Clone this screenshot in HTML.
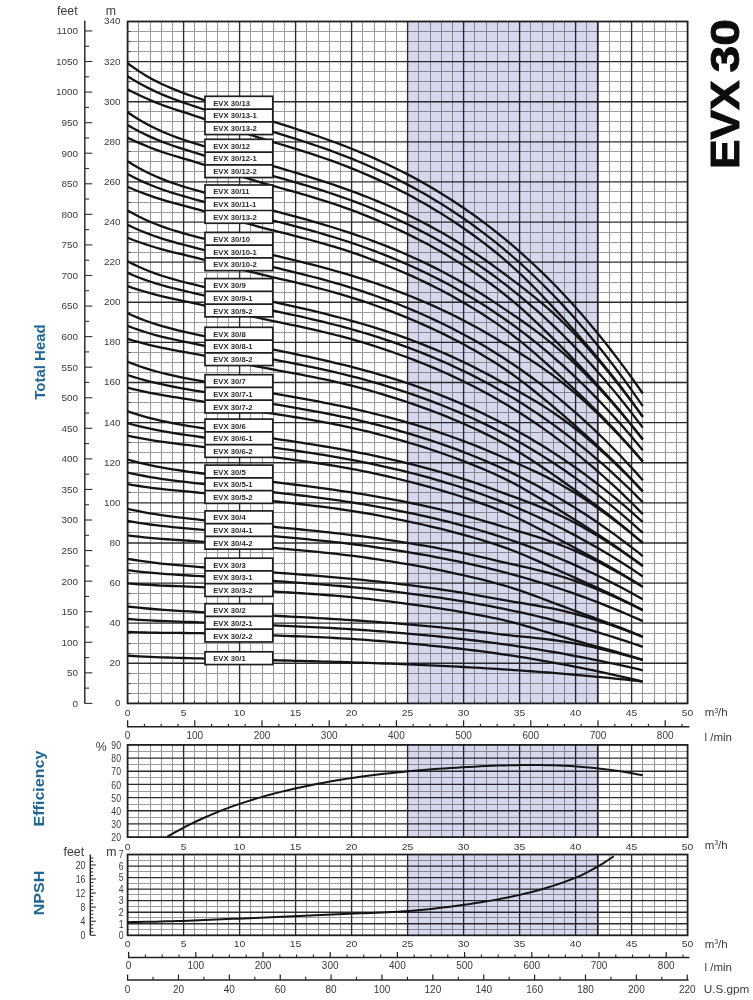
<!DOCTYPE html>
<html><head><meta charset="utf-8"><title>EVX 30</title>
<style>
html,body{margin:0;padding:0;background:#fff;}
body{width:753px;height:1000px;overflow:hidden;}
svg{display:block;}
text{font-family:"Liberation Sans",sans-serif;}
.t{font-size:10px;fill:#3a3a3a;}
.t9{font-size:9px;fill:#3a3a3a;}
.t95{font-size:9.6px;fill:#3a3a3a;}
.u{font-size:12.3px;fill:#3a3a3a;}
.u2{font-size:11.5px;fill:#3a3a3a;}
.sup{font-size:6.5px;}
.bx{font-size:7.7px;font-weight:bold;fill:#2a2a2a;}
.ttl{font-size:14.8px;font-weight:bold;fill:#1f6696;}
.big{font-size:41px;font-weight:bold;fill:#0c0c0c;stroke:#0c0c0c;stroke-width:0.9px;}
</style></head>
<body>
<svg width="753" height="1000" viewBox="0 0 753 1000">
<rect width="753" height="1000" fill="#fff"/>
<line x1="138.5" y1="21.5" x2="138.5" y2="703.4" stroke="#9c9c9c" stroke-width="1"/>
<line x1="150.5" y1="21.5" x2="150.5" y2="703.4" stroke="#9c9c9c" stroke-width="1"/>
<line x1="161.5" y1="21.5" x2="161.5" y2="703.4" stroke="#9c9c9c" stroke-width="1"/>
<line x1="172.5" y1="21.5" x2="172.5" y2="703.4" stroke="#9c9c9c" stroke-width="1"/>
<line x1="194.5" y1="21.5" x2="194.5" y2="703.4" stroke="#9c9c9c" stroke-width="1"/>
<line x1="206.5" y1="21.5" x2="206.5" y2="703.4" stroke="#9c9c9c" stroke-width="1"/>
<line x1="217.5" y1="21.5" x2="217.5" y2="703.4" stroke="#9c9c9c" stroke-width="1"/>
<line x1="228.5" y1="21.5" x2="228.5" y2="703.4" stroke="#9c9c9c" stroke-width="1"/>
<line x1="250.5" y1="21.5" x2="250.5" y2="703.4" stroke="#9c9c9c" stroke-width="1"/>
<line x1="262.5" y1="21.5" x2="262.5" y2="703.4" stroke="#9c9c9c" stroke-width="1"/>
<line x1="273.5" y1="21.5" x2="273.5" y2="703.4" stroke="#9c9c9c" stroke-width="1"/>
<line x1="284.5" y1="21.5" x2="284.5" y2="703.4" stroke="#9c9c9c" stroke-width="1"/>
<line x1="306.5" y1="21.5" x2="306.5" y2="703.4" stroke="#9c9c9c" stroke-width="1"/>
<line x1="318.5" y1="21.5" x2="318.5" y2="703.4" stroke="#9c9c9c" stroke-width="1"/>
<line x1="329.5" y1="21.5" x2="329.5" y2="703.4" stroke="#9c9c9c" stroke-width="1"/>
<line x1="340.5" y1="21.5" x2="340.5" y2="703.4" stroke="#9c9c9c" stroke-width="1"/>
<line x1="362.5" y1="21.5" x2="362.5" y2="703.4" stroke="#9c9c9c" stroke-width="1"/>
<line x1="374.5" y1="21.5" x2="374.5" y2="703.4" stroke="#9c9c9c" stroke-width="1"/>
<line x1="385.5" y1="21.5" x2="385.5" y2="703.4" stroke="#9c9c9c" stroke-width="1"/>
<line x1="396.5" y1="21.5" x2="396.5" y2="703.4" stroke="#9c9c9c" stroke-width="1"/>
<line x1="418.5" y1="21.5" x2="418.5" y2="703.4" stroke="#9c9c9c" stroke-width="1"/>
<line x1="430.5" y1="21.5" x2="430.5" y2="703.4" stroke="#9c9c9c" stroke-width="1"/>
<line x1="441.5" y1="21.5" x2="441.5" y2="703.4" stroke="#9c9c9c" stroke-width="1"/>
<line x1="452.5" y1="21.5" x2="452.5" y2="703.4" stroke="#9c9c9c" stroke-width="1"/>
<line x1="474.5" y1="21.5" x2="474.5" y2="703.4" stroke="#9c9c9c" stroke-width="1"/>
<line x1="486.5" y1="21.5" x2="486.5" y2="703.4" stroke="#9c9c9c" stroke-width="1"/>
<line x1="497.5" y1="21.5" x2="497.5" y2="703.4" stroke="#9c9c9c" stroke-width="1"/>
<line x1="508.5" y1="21.5" x2="508.5" y2="703.4" stroke="#9c9c9c" stroke-width="1"/>
<line x1="530.5" y1="21.5" x2="530.5" y2="703.4" stroke="#9c9c9c" stroke-width="1"/>
<line x1="542.5" y1="21.5" x2="542.5" y2="703.4" stroke="#9c9c9c" stroke-width="1"/>
<line x1="553.5" y1="21.5" x2="553.5" y2="703.4" stroke="#9c9c9c" stroke-width="1"/>
<line x1="564.5" y1="21.5" x2="564.5" y2="703.4" stroke="#9c9c9c" stroke-width="1"/>
<line x1="586.5" y1="21.5" x2="586.5" y2="703.4" stroke="#9c9c9c" stroke-width="1"/>
<line x1="609.5" y1="21.5" x2="609.5" y2="703.4" stroke="#9c9c9c" stroke-width="1"/>
<line x1="620.5" y1="21.5" x2="620.5" y2="703.4" stroke="#9c9c9c" stroke-width="1"/>
<line x1="642.5" y1="21.5" x2="642.5" y2="703.4" stroke="#9c9c9c" stroke-width="1"/>
<line x1="654.5" y1="21.5" x2="654.5" y2="703.4" stroke="#9c9c9c" stroke-width="1"/>
<line x1="665.5" y1="21.5" x2="665.5" y2="703.4" stroke="#9c9c9c" stroke-width="1"/>
<line x1="676.5" y1="21.5" x2="676.5" y2="703.4" stroke="#9c9c9c" stroke-width="1"/>
<line x1="127.6" y1="693.5" x2="687.6" y2="693.5" stroke="#9c9c9c" stroke-width="1"/>
<line x1="127.6" y1="683.5" x2="687.6" y2="683.5" stroke="#9c9c9c" stroke-width="1"/>
<line x1="127.6" y1="673.5" x2="687.6" y2="673.5" stroke="#9c9c9c" stroke-width="1"/>
<line x1="127.6" y1="653.5" x2="687.6" y2="653.5" stroke="#9c9c9c" stroke-width="1"/>
<line x1="127.6" y1="643.5" x2="687.6" y2="643.5" stroke="#9c9c9c" stroke-width="1"/>
<line x1="127.6" y1="633.5" x2="687.6" y2="633.5" stroke="#9c9c9c" stroke-width="1"/>
<line x1="127.6" y1="613.5" x2="687.6" y2="613.5" stroke="#9c9c9c" stroke-width="1"/>
<line x1="127.6" y1="603.5" x2="687.6" y2="603.5" stroke="#9c9c9c" stroke-width="1"/>
<line x1="127.6" y1="593.5" x2="687.6" y2="593.5" stroke="#9c9c9c" stroke-width="1"/>
<line x1="127.6" y1="573.5" x2="687.6" y2="573.5" stroke="#9c9c9c" stroke-width="1"/>
<line x1="127.6" y1="563.5" x2="687.6" y2="563.5" stroke="#9c9c9c" stroke-width="1"/>
<line x1="127.6" y1="552.5" x2="687.6" y2="552.5" stroke="#9c9c9c" stroke-width="1"/>
<line x1="127.6" y1="532.5" x2="687.6" y2="532.5" stroke="#9c9c9c" stroke-width="1"/>
<line x1="127.6" y1="522.5" x2="687.6" y2="522.5" stroke="#9c9c9c" stroke-width="1"/>
<line x1="127.6" y1="512.5" x2="687.6" y2="512.5" stroke="#9c9c9c" stroke-width="1"/>
<line x1="127.6" y1="492.5" x2="687.6" y2="492.5" stroke="#9c9c9c" stroke-width="1"/>
<line x1="127.6" y1="482.5" x2="687.6" y2="482.5" stroke="#9c9c9c" stroke-width="1"/>
<line x1="127.6" y1="472.5" x2="687.6" y2="472.5" stroke="#9c9c9c" stroke-width="1"/>
<line x1="127.6" y1="452.5" x2="687.6" y2="452.5" stroke="#9c9c9c" stroke-width="1"/>
<line x1="127.6" y1="442.5" x2="687.6" y2="442.5" stroke="#9c9c9c" stroke-width="1"/>
<line x1="127.6" y1="432.5" x2="687.6" y2="432.5" stroke="#9c9c9c" stroke-width="1"/>
<line x1="127.6" y1="412.5" x2="687.6" y2="412.5" stroke="#9c9c9c" stroke-width="1"/>
<line x1="127.6" y1="402.5" x2="687.6" y2="402.5" stroke="#9c9c9c" stroke-width="1"/>
<line x1="127.6" y1="392.5" x2="687.6" y2="392.5" stroke="#9c9c9c" stroke-width="1"/>
<line x1="127.6" y1="372.5" x2="687.6" y2="372.5" stroke="#9c9c9c" stroke-width="1"/>
<line x1="127.6" y1="362.5" x2="687.6" y2="362.5" stroke="#9c9c9c" stroke-width="1"/>
<line x1="127.6" y1="352.5" x2="687.6" y2="352.5" stroke="#9c9c9c" stroke-width="1"/>
<line x1="127.6" y1="332.5" x2="687.6" y2="332.5" stroke="#9c9c9c" stroke-width="1"/>
<line x1="127.6" y1="322.5" x2="687.6" y2="322.5" stroke="#9c9c9c" stroke-width="1"/>
<line x1="127.6" y1="312.5" x2="687.6" y2="312.5" stroke="#9c9c9c" stroke-width="1"/>
<line x1="127.6" y1="292.5" x2="687.6" y2="292.5" stroke="#9c9c9c" stroke-width="1"/>
<line x1="127.6" y1="282.5" x2="687.6" y2="282.5" stroke="#9c9c9c" stroke-width="1"/>
<line x1="127.6" y1="272.5" x2="687.6" y2="272.5" stroke="#9c9c9c" stroke-width="1"/>
<line x1="127.6" y1="252.5" x2="687.6" y2="252.5" stroke="#9c9c9c" stroke-width="1"/>
<line x1="127.6" y1="242.5" x2="687.6" y2="242.5" stroke="#9c9c9c" stroke-width="1"/>
<line x1="127.6" y1="232.5" x2="687.6" y2="232.5" stroke="#9c9c9c" stroke-width="1"/>
<line x1="127.6" y1="212.5" x2="687.6" y2="212.5" stroke="#9c9c9c" stroke-width="1"/>
<line x1="127.6" y1="202.5" x2="687.6" y2="202.5" stroke="#9c9c9c" stroke-width="1"/>
<line x1="127.6" y1="191.5" x2="687.6" y2="191.5" stroke="#9c9c9c" stroke-width="1"/>
<line x1="127.6" y1="171.5" x2="687.6" y2="171.5" stroke="#9c9c9c" stroke-width="1"/>
<line x1="127.6" y1="161.5" x2="687.6" y2="161.5" stroke="#9c9c9c" stroke-width="1"/>
<line x1="127.6" y1="151.5" x2="687.6" y2="151.5" stroke="#9c9c9c" stroke-width="1"/>
<line x1="127.6" y1="131.5" x2="687.6" y2="131.5" stroke="#9c9c9c" stroke-width="1"/>
<line x1="127.6" y1="121.5" x2="687.6" y2="121.5" stroke="#9c9c9c" stroke-width="1"/>
<line x1="127.6" y1="111.5" x2="687.6" y2="111.5" stroke="#9c9c9c" stroke-width="1"/>
<line x1="127.6" y1="91.5" x2="687.6" y2="91.5" stroke="#9c9c9c" stroke-width="1"/>
<line x1="127.6" y1="81.5" x2="687.6" y2="81.5" stroke="#9c9c9c" stroke-width="1"/>
<line x1="127.6" y1="71.5" x2="687.6" y2="71.5" stroke="#9c9c9c" stroke-width="1"/>
<line x1="127.6" y1="51.5" x2="687.6" y2="51.5" stroke="#9c9c9c" stroke-width="1"/>
<line x1="127.6" y1="41.5" x2="687.6" y2="41.5" stroke="#9c9c9c" stroke-width="1"/>
<line x1="127.6" y1="31.5" x2="687.6" y2="31.5" stroke="#9c9c9c" stroke-width="1"/>
<line x1="127.6" y1="663.29" x2="687.6" y2="663.29" stroke="#2c2c2c" stroke-width="1.35"/>
<line x1="127.6" y1="623.18" x2="687.6" y2="623.18" stroke="#2c2c2c" stroke-width="1.35"/>
<line x1="127.6" y1="583.06" x2="687.6" y2="583.06" stroke="#2c2c2c" stroke-width="1.35"/>
<line x1="127.6" y1="542.95" x2="687.6" y2="542.95" stroke="#2c2c2c" stroke-width="1.35"/>
<line x1="127.6" y1="502.84" x2="687.6" y2="502.84" stroke="#2c2c2c" stroke-width="1.35"/>
<line x1="127.6" y1="462.73" x2="687.6" y2="462.73" stroke="#2c2c2c" stroke-width="1.35"/>
<line x1="127.6" y1="422.62" x2="687.6" y2="422.62" stroke="#2c2c2c" stroke-width="1.35"/>
<line x1="127.6" y1="382.5" x2="687.6" y2="382.5" stroke="#2c2c2c" stroke-width="1.35"/>
<line x1="127.6" y1="342.39" x2="687.6" y2="342.39" stroke="#2c2c2c" stroke-width="1.35"/>
<line x1="127.6" y1="302.28" x2="687.6" y2="302.28" stroke="#2c2c2c" stroke-width="1.35"/>
<line x1="127.6" y1="262.17" x2="687.6" y2="262.17" stroke="#2c2c2c" stroke-width="1.35"/>
<line x1="127.6" y1="222.06" x2="687.6" y2="222.06" stroke="#2c2c2c" stroke-width="1.35"/>
<line x1="127.6" y1="181.94" x2="687.6" y2="181.94" stroke="#2c2c2c" stroke-width="1.35"/>
<line x1="127.6" y1="141.83" x2="687.6" y2="141.83" stroke="#2c2c2c" stroke-width="1.35"/>
<line x1="127.6" y1="101.72" x2="687.6" y2="101.72" stroke="#2c2c2c" stroke-width="1.35"/>
<line x1="127.6" y1="61.61" x2="687.6" y2="61.61" stroke="#2c2c2c" stroke-width="1.35"/>
<line x1="183.6" y1="21.5" x2="183.6" y2="703.4" stroke="#2c2c2c" stroke-width="1.35"/>
<line x1="239.6" y1="21.5" x2="239.6" y2="703.4" stroke="#2c2c2c" stroke-width="1.35"/>
<line x1="295.6" y1="21.5" x2="295.6" y2="703.4" stroke="#2c2c2c" stroke-width="1.35"/>
<line x1="351.6" y1="21.5" x2="351.6" y2="703.4" stroke="#2c2c2c" stroke-width="1.35"/>
<line x1="407.6" y1="21.5" x2="407.6" y2="703.4" stroke="#2c2c2c" stroke-width="1.35"/>
<line x1="463.6" y1="21.5" x2="463.6" y2="703.4" stroke="#2c2c2c" stroke-width="1.35"/>
<line x1="519.6" y1="21.5" x2="519.6" y2="703.4" stroke="#2c2c2c" stroke-width="1.35"/>
<line x1="575.6" y1="21.5" x2="575.6" y2="703.4" stroke="#2c2c2c" stroke-width="1.35"/>
<line x1="631.6" y1="21.5" x2="631.6" y2="703.4" stroke="#2c2c2c" stroke-width="1.35"/>
<line x1="597.8" y1="21.5" x2="597.8" y2="703.4" stroke="#2c2c2c" stroke-width="1.8"/>
<rect x="407.6" y="21.5" width="190.4" height="681.9" fill="#d6d9ed" style="mix-blend-mode:multiply"/>
<rect x="127.6" y="21.5" width="560" height="681.9" fill="none" stroke="#1e1e1e" stroke-width="1.8"/>
<line x1="138.5" y1="700.4" x2="138.5" y2="703.4" stroke="#444" stroke-width="1.1"/>
<line x1="150.5" y1="700.4" x2="150.5" y2="703.4" stroke="#444" stroke-width="1.1"/>
<line x1="161.5" y1="700.4" x2="161.5" y2="703.4" stroke="#444" stroke-width="1.1"/>
<line x1="172.5" y1="700.4" x2="172.5" y2="703.4" stroke="#444" stroke-width="1.1"/>
<line x1="194.5" y1="700.4" x2="194.5" y2="703.4" stroke="#444" stroke-width="1.1"/>
<line x1="206.5" y1="700.4" x2="206.5" y2="703.4" stroke="#444" stroke-width="1.1"/>
<line x1="217.5" y1="700.4" x2="217.5" y2="703.4" stroke="#444" stroke-width="1.1"/>
<line x1="228.5" y1="700.4" x2="228.5" y2="703.4" stroke="#444" stroke-width="1.1"/>
<line x1="250.5" y1="700.4" x2="250.5" y2="703.4" stroke="#444" stroke-width="1.1"/>
<line x1="262.5" y1="700.4" x2="262.5" y2="703.4" stroke="#444" stroke-width="1.1"/>
<line x1="273.5" y1="700.4" x2="273.5" y2="703.4" stroke="#444" stroke-width="1.1"/>
<line x1="284.5" y1="700.4" x2="284.5" y2="703.4" stroke="#444" stroke-width="1.1"/>
<line x1="306.5" y1="700.4" x2="306.5" y2="703.4" stroke="#444" stroke-width="1.1"/>
<line x1="318.5" y1="700.4" x2="318.5" y2="703.4" stroke="#444" stroke-width="1.1"/>
<line x1="329.5" y1="700.4" x2="329.5" y2="703.4" stroke="#444" stroke-width="1.1"/>
<line x1="340.5" y1="700.4" x2="340.5" y2="703.4" stroke="#444" stroke-width="1.1"/>
<line x1="362.5" y1="700.4" x2="362.5" y2="703.4" stroke="#444" stroke-width="1.1"/>
<line x1="374.5" y1="700.4" x2="374.5" y2="703.4" stroke="#444" stroke-width="1.1"/>
<line x1="385.5" y1="700.4" x2="385.5" y2="703.4" stroke="#444" stroke-width="1.1"/>
<line x1="396.5" y1="700.4" x2="396.5" y2="703.4" stroke="#444" stroke-width="1.1"/>
<line x1="418.5" y1="700.4" x2="418.5" y2="703.4" stroke="#444" stroke-width="1.1"/>
<line x1="430.5" y1="700.4" x2="430.5" y2="703.4" stroke="#444" stroke-width="1.1"/>
<line x1="441.5" y1="700.4" x2="441.5" y2="703.4" stroke="#444" stroke-width="1.1"/>
<line x1="452.5" y1="700.4" x2="452.5" y2="703.4" stroke="#444" stroke-width="1.1"/>
<line x1="474.5" y1="700.4" x2="474.5" y2="703.4" stroke="#444" stroke-width="1.1"/>
<line x1="486.5" y1="700.4" x2="486.5" y2="703.4" stroke="#444" stroke-width="1.1"/>
<line x1="497.5" y1="700.4" x2="497.5" y2="703.4" stroke="#444" stroke-width="1.1"/>
<line x1="508.5" y1="700.4" x2="508.5" y2="703.4" stroke="#444" stroke-width="1.1"/>
<line x1="530.5" y1="700.4" x2="530.5" y2="703.4" stroke="#444" stroke-width="1.1"/>
<line x1="542.5" y1="700.4" x2="542.5" y2="703.4" stroke="#444" stroke-width="1.1"/>
<line x1="553.5" y1="700.4" x2="553.5" y2="703.4" stroke="#444" stroke-width="1.1"/>
<line x1="564.5" y1="700.4" x2="564.5" y2="703.4" stroke="#444" stroke-width="1.1"/>
<line x1="586.5" y1="700.4" x2="586.5" y2="703.4" stroke="#444" stroke-width="1.1"/>
<line x1="598.5" y1="700.4" x2="598.5" y2="703.4" stroke="#444" stroke-width="1.1"/>
<line x1="609.5" y1="700.4" x2="609.5" y2="703.4" stroke="#444" stroke-width="1.1"/>
<line x1="620.5" y1="700.4" x2="620.5" y2="703.4" stroke="#444" stroke-width="1.1"/>
<line x1="642.5" y1="700.4" x2="642.5" y2="703.4" stroke="#444" stroke-width="1.1"/>
<line x1="654.5" y1="700.4" x2="654.5" y2="703.4" stroke="#444" stroke-width="1.1"/>
<line x1="665.5" y1="700.4" x2="665.5" y2="703.4" stroke="#444" stroke-width="1.1"/>
<line x1="676.5" y1="700.4" x2="676.5" y2="703.4" stroke="#444" stroke-width="1.1"/>
<line x1="127.6" y1="693.5" x2="130.6" y2="693.5" stroke="#444" stroke-width="1.1"/>
<line x1="127.6" y1="683.5" x2="130.6" y2="683.5" stroke="#444" stroke-width="1.1"/>
<line x1="127.6" y1="673.5" x2="130.6" y2="673.5" stroke="#444" stroke-width="1.1"/>
<line x1="127.6" y1="653.5" x2="130.6" y2="653.5" stroke="#444" stroke-width="1.1"/>
<line x1="127.6" y1="643.5" x2="130.6" y2="643.5" stroke="#444" stroke-width="1.1"/>
<line x1="127.6" y1="633.5" x2="130.6" y2="633.5" stroke="#444" stroke-width="1.1"/>
<line x1="127.6" y1="613.5" x2="130.6" y2="613.5" stroke="#444" stroke-width="1.1"/>
<line x1="127.6" y1="603.5" x2="130.6" y2="603.5" stroke="#444" stroke-width="1.1"/>
<line x1="127.6" y1="593.5" x2="130.6" y2="593.5" stroke="#444" stroke-width="1.1"/>
<line x1="127.6" y1="573.5" x2="130.6" y2="573.5" stroke="#444" stroke-width="1.1"/>
<line x1="127.6" y1="563.5" x2="130.6" y2="563.5" stroke="#444" stroke-width="1.1"/>
<line x1="127.6" y1="552.5" x2="130.6" y2="552.5" stroke="#444" stroke-width="1.1"/>
<line x1="127.6" y1="532.5" x2="130.6" y2="532.5" stroke="#444" stroke-width="1.1"/>
<line x1="127.6" y1="522.5" x2="130.6" y2="522.5" stroke="#444" stroke-width="1.1"/>
<line x1="127.6" y1="512.5" x2="130.6" y2="512.5" stroke="#444" stroke-width="1.1"/>
<line x1="127.6" y1="492.5" x2="130.6" y2="492.5" stroke="#444" stroke-width="1.1"/>
<line x1="127.6" y1="482.5" x2="130.6" y2="482.5" stroke="#444" stroke-width="1.1"/>
<line x1="127.6" y1="472.5" x2="130.6" y2="472.5" stroke="#444" stroke-width="1.1"/>
<line x1="127.6" y1="452.5" x2="130.6" y2="452.5" stroke="#444" stroke-width="1.1"/>
<line x1="127.6" y1="442.5" x2="130.6" y2="442.5" stroke="#444" stroke-width="1.1"/>
<line x1="127.6" y1="432.5" x2="130.6" y2="432.5" stroke="#444" stroke-width="1.1"/>
<line x1="127.6" y1="412.5" x2="130.6" y2="412.5" stroke="#444" stroke-width="1.1"/>
<line x1="127.6" y1="402.5" x2="130.6" y2="402.5" stroke="#444" stroke-width="1.1"/>
<line x1="127.6" y1="392.5" x2="130.6" y2="392.5" stroke="#444" stroke-width="1.1"/>
<line x1="127.6" y1="372.5" x2="130.6" y2="372.5" stroke="#444" stroke-width="1.1"/>
<line x1="127.6" y1="362.5" x2="130.6" y2="362.5" stroke="#444" stroke-width="1.1"/>
<line x1="127.6" y1="352.5" x2="130.6" y2="352.5" stroke="#444" stroke-width="1.1"/>
<line x1="127.6" y1="332.5" x2="130.6" y2="332.5" stroke="#444" stroke-width="1.1"/>
<line x1="127.6" y1="322.5" x2="130.6" y2="322.5" stroke="#444" stroke-width="1.1"/>
<line x1="127.6" y1="312.5" x2="130.6" y2="312.5" stroke="#444" stroke-width="1.1"/>
<line x1="127.6" y1="292.5" x2="130.6" y2="292.5" stroke="#444" stroke-width="1.1"/>
<line x1="127.6" y1="282.5" x2="130.6" y2="282.5" stroke="#444" stroke-width="1.1"/>
<line x1="127.6" y1="272.5" x2="130.6" y2="272.5" stroke="#444" stroke-width="1.1"/>
<line x1="127.6" y1="252.5" x2="130.6" y2="252.5" stroke="#444" stroke-width="1.1"/>
<line x1="127.6" y1="242.5" x2="130.6" y2="242.5" stroke="#444" stroke-width="1.1"/>
<line x1="127.6" y1="232.5" x2="130.6" y2="232.5" stroke="#444" stroke-width="1.1"/>
<line x1="127.6" y1="212.5" x2="130.6" y2="212.5" stroke="#444" stroke-width="1.1"/>
<line x1="127.6" y1="202.5" x2="130.6" y2="202.5" stroke="#444" stroke-width="1.1"/>
<line x1="127.6" y1="191.5" x2="130.6" y2="191.5" stroke="#444" stroke-width="1.1"/>
<line x1="127.6" y1="171.5" x2="130.6" y2="171.5" stroke="#444" stroke-width="1.1"/>
<line x1="127.6" y1="161.5" x2="130.6" y2="161.5" stroke="#444" stroke-width="1.1"/>
<line x1="127.6" y1="151.5" x2="130.6" y2="151.5" stroke="#444" stroke-width="1.1"/>
<line x1="127.6" y1="131.5" x2="130.6" y2="131.5" stroke="#444" stroke-width="1.1"/>
<line x1="127.6" y1="121.5" x2="130.6" y2="121.5" stroke="#444" stroke-width="1.1"/>
<line x1="127.6" y1="111.5" x2="130.6" y2="111.5" stroke="#444" stroke-width="1.1"/>
<line x1="127.6" y1="91.5" x2="130.6" y2="91.5" stroke="#444" stroke-width="1.1"/>
<line x1="127.6" y1="81.5" x2="130.6" y2="81.5" stroke="#444" stroke-width="1.1"/>
<line x1="127.6" y1="71.5" x2="130.6" y2="71.5" stroke="#444" stroke-width="1.1"/>
<line x1="127.6" y1="51.5" x2="130.6" y2="51.5" stroke="#444" stroke-width="1.1"/>
<line x1="127.6" y1="41.5" x2="130.6" y2="41.5" stroke="#444" stroke-width="1.1"/>
<line x1="127.6" y1="31.5" x2="130.6" y2="31.5" stroke="#444" stroke-width="1.1"/>
<polyline points="127.6,63.2 133.2,67.32 138.8,71.13 144.4,74.64 150,77.89 155.6,80.9 161.2,83.68 166.8,86.27 172.4,88.68 178,90.93 183.6,93.06 189.2,95.08 194.8,97.02 200.4,98.89 206,100.73 211.6,102.54 217.2,104.33 222.8,106.1 228.4,107.85 234,109.58 239.6,111.31 245.2,113.03 250.8,114.75 256.4,116.46 262,118.18 267.6,119.91 273.2,121.64 278.8,123.39 284.4,125.15 290,126.93 295.6,128.74 301.2,130.57 306.8,132.43 312.4,134.32 318,136.24 323.6,138.21 329.2,140.22 334.8,142.27 340.4,144.37 346,146.53 351.6,148.73 357.2,151 362.8,153.33 368.4,155.72 374,158.17 379.6,160.69 385.2,163.28 390.8,165.94 396.4,168.68 402,171.48 407.6,174.37 413.2,177.34 418.8,180.38 424.4,183.51 430,186.73 435.6,190.04 441.2,193.43 446.8,196.92 452.4,200.5 458,204.18 463.6,207.96 469.2,211.83 474.8,215.81 480.4,219.9 486,224.09 491.6,228.39 497.2,232.8 502.8,237.33 508.4,241.97 514,246.73 519.6,251.61 525.2,256.61 530.8,261.73 536.4,266.98 542,272.36 547.6,277.87 553.2,283.52 558.8,289.29 564.4,295.21 570,301.26 575.6,307.45 581.2,313.79 586.8,320.27 592.4,326.9 598,333.68 603.6,340.6 609.2,347.69 614.8,354.93 620.4,362.32 626,369.88 631.6,377.6 637.2,385.48 642.8,393.53" fill="none" stroke="#141414" stroke-width="2.3" stroke-linejoin="round"/>
<polyline points="127.6,76.2 133.2,79.73 138.8,82.98 144.4,86.01 150,88.89 155.6,91.58 161.2,94.07 166.8,96.38 172.4,98.54 178,100.59 183.6,102.56 189.2,104.49 194.8,106.39 200.4,108.27 206,110.14 211.6,112.01 217.2,113.88 222.8,115.76 228.4,117.62 234,119.46 239.6,121.26 245.2,123.05 250.8,124.85 256.4,126.64 262,128.42 267.6,130.18 273.2,131.9 278.8,133.61 284.4,135.34 290,137.09 295.6,138.86 301.2,140.65 306.8,142.48 312.4,144.35 318,146.25 323.6,148.19 329.2,150.18 334.8,152.22 340.4,154.32 346,156.47 351.6,158.68 357.2,160.96 362.8,163.31 368.4,165.72 374,168.2 379.6,170.76 385.2,173.38 390.8,176.08 396.4,178.85 402,181.69 407.6,184.61 413.2,187.6 418.8,190.68 424.4,193.84 430,197.09 435.6,200.42 441.2,203.84 446.8,207.36 452.4,210.98 458,214.69 463.6,218.5 469.2,222.42 474.8,226.45 480.4,230.58 486,234.82 491.6,239.18 497.2,243.64 502.8,248.23 508.4,252.93 514,257.75 519.6,262.69 525.2,267.75 530.8,272.95 536.4,278.27 542,283.73 547.6,289.32 553.2,295.04 558.8,300.89 564.4,306.89 570,313.01 575.6,319.28 581.2,325.69 586.8,332.24 592.4,338.94 598,345.78 603.6,352.78 609.2,359.93 614.8,367.24 620.4,374.7 626,382.32 631.6,390.11 637.2,398.06 642.8,406.17" fill="none" stroke="#141414" stroke-width="2.3" stroke-linejoin="round"/>
<polyline points="127.6,89.3 133.2,92.23 138.8,94.93 144.4,97.48 150,99.98 155.6,102.36 161.2,104.55 166.8,106.58 172.4,108.5 178,110.33 183.6,112.14 189.2,113.96 194.8,115.82 200.4,117.71 206,119.6 211.6,121.52 217.2,123.47 222.8,125.45 228.4,127.41 234,129.34 239.6,131.22 245.2,133.07 250.8,134.93 256.4,136.79 262,138.62 267.6,140.39 273.2,142.09 278.8,143.75 284.4,145.43 290,147.13 295.6,148.85 301.2,150.6 306.8,152.38 312.4,154.2 318,156.06 323.6,157.97 329.2,159.93 334.8,161.94 340.4,164.01 346,166.14 351.6,168.34 357.2,170.61 362.8,172.95 368.4,175.37 374,177.86 379.6,180.42 385.2,183.06 390.8,185.77 396.4,188.55 402,191.4 407.6,194.33 413.2,197.33 418.8,200.41 424.4,203.57 430,206.82 435.6,210.15 441.2,213.58 446.8,217.1 452.4,220.72 458,224.44 463.6,228.26 469.2,232.19 474.8,236.22 480.4,240.37 486,244.63 491.6,249.01 497.2,253.5 502.8,258.15 508.4,263.01 514,268.05 519.6,273.25 525.2,278.61 530.8,284.12 536.4,289.76 542,295.52 547.6,301.38 553.2,307.35 558.8,313.4 564.4,319.55 570,325.77 575.6,332.07 581.2,338.46 586.8,344.93 592.4,351.5 598,358.17 603.6,364.96 609.2,371.91 614.8,379 620.4,386.25 626,393.65 631.6,401.21 637.2,408.92 642.8,416.8" fill="none" stroke="#141414" stroke-width="2.3" stroke-linejoin="round"/>
<polyline points="127.6,112.2 133.2,116 138.8,119.52 144.4,122.76 150,125.76 155.6,128.53 161.2,131.1 166.8,133.49 172.4,135.71 178,137.8 183.6,139.76 189.2,141.63 194.8,143.41 200.4,145.14 206,146.84 211.6,148.51 217.2,150.15 222.8,151.78 228.4,153.4 234,155 239.6,156.59 245.2,158.18 250.8,159.76 256.4,161.34 262,162.93 267.6,164.52 273.2,166.12 278.8,167.73 284.4,169.35 290,171 295.6,172.66 301.2,174.35 306.8,176.06 312.4,177.81 318,179.58 323.6,181.39 329.2,183.24 334.8,185.14 340.4,187.07 346,189.06 351.6,191.09 357.2,193.18 362.8,195.33 368.4,197.53 374,199.79 379.6,202.11 385.2,204.5 390.8,206.95 396.4,209.47 402,212.06 407.6,214.72 413.2,217.46 418.8,220.27 424.4,223.15 430,226.12 435.6,229.16 441.2,232.29 446.8,235.51 452.4,238.81 458,242.2 463.6,245.68 469.2,249.26 474.8,252.93 480.4,256.69 486,260.56 491.6,264.52 497.2,268.59 502.8,272.72 508.4,276.87 514,281.06 519.6,285.32 525.2,289.67 530.8,294.12 536.4,298.68 542,303.38 547.6,308.22 553.2,313.22 558.8,318.39 564.4,323.73 570,329.26 575.6,334.96 581.2,340.86 586.8,346.94 592.4,353.21 598,359.67 603.6,366.29 609.2,373.05 614.8,379.96 620.4,387.02 626,394.23 631.6,401.6 637.2,409.12 642.8,416.8" fill="none" stroke="#141414" stroke-width="2.3" stroke-linejoin="round"/>
<polyline points="127.6,125 133.2,128.24 138.8,131.23 144.4,134.02 150,136.66 155.6,139.14 161.2,141.42 166.8,143.54 172.4,145.52 178,147.4 183.6,149.2 189.2,150.96 194.8,152.7 200.4,154.42 206,156.13 211.6,157.84 217.2,159.56 222.8,161.28 228.4,162.98 234,164.67 239.6,166.32 245.2,167.96 250.8,169.6 256.4,171.24 262,172.87 267.6,174.47 273.2,176.05 278.8,177.61 284.4,179.19 290,180.79 295.6,182.41 301.2,184.05 306.8,185.72 312.4,187.43 318,189.17 323.6,190.94 329.2,192.76 334.8,194.63 340.4,196.55 346,198.51 351.6,200.54 357.2,202.62 362.8,204.77 368.4,206.98 374,209.26 379.6,211.6 385.2,214 390.8,216.47 396.4,219.01 402,221.61 407.6,224.29 413.2,227.03 418.8,229.85 424.4,232.75 430,235.72 435.6,238.77 441.2,241.91 446.8,245.14 452.4,248.45 458,251.85 463.6,255.35 469.2,258.94 474.8,262.63 480.4,266.42 486,270.31 491.6,274.31 497.2,278.4 502.8,282.61 508.4,286.92 514,291.34 519.6,295.88 525.2,300.53 530.8,305.29 536.4,310.18 542,315.19 547.6,320.32 553.2,325.57 558.8,330.95 564.4,336.45 570,342.08 575.6,347.83 581.2,353.71 586.8,359.73 592.4,365.88 598,372.17 603.6,378.59 609.2,385.16 614.8,391.87 620.4,398.73 626,405.73 631.6,412.88 637.2,420.18 642.8,427.63" fill="none" stroke="#141414" stroke-width="2.3" stroke-linejoin="round"/>
<polyline points="127.6,137.7 133.2,140.38 138.8,142.85 144.4,145.18 150,147.46 155.6,149.64 161.2,151.64 166.8,153.49 172.4,155.23 178,156.9 183.6,158.54 189.2,160.21 194.8,161.9 200.4,163.63 206,165.35 211.6,167.11 217.2,168.9 222.8,170.7 228.4,172.51 234,174.28 239.6,175.99 245.2,177.69 250.8,179.4 256.4,181.1 262,182.78 267.6,184.41 273.2,185.97 278.8,187.49 284.4,189.04 290,190.59 295.6,192.18 301.2,193.78 306.8,195.42 312.4,197.09 318,198.8 323.6,200.55 329.2,202.35 334.8,204.2 340.4,206.11 346,208.07 351.6,210.09 357.2,212.19 362.8,214.35 368.4,216.58 374,218.88 379.6,221.24 385.2,223.68 390.8,226.18 396.4,228.75 402,231.38 407.6,234.08 413.2,236.85 418.8,239.69 424.4,242.6 430,245.6 435.6,248.68 441.2,251.84 446.8,255.09 452.4,258.43 458,261.86 463.6,265.38 469.2,269.01 474.8,272.74 480.4,276.57 486,280.5 491.6,284.54 497.2,288.69 502.8,292.99 508.4,297.48 514,302.15 519.6,306.98 525.2,311.96 530.8,317.07 536.4,322.31 542,327.65 547.6,333.1 553.2,338.63 558.8,344.23 564.4,349.92 570,355.67 575.6,361.49 581.2,367.38 586.8,373.35 592.4,379.39 598,385.53 603.6,391.78 609.2,398.17 614.8,404.7 620.4,411.36 626,418.17 631.6,425.12 637.2,432.22 642.8,439.46" fill="none" stroke="#141414" stroke-width="2.3" stroke-linejoin="round"/>
<polyline points="127.6,161.3 133.2,164.79 138.8,168.01 144.4,170.98 150,173.73 155.6,176.27 161.2,178.62 166.8,180.81 172.4,182.85 178,184.75 183.6,186.55 189.2,188.26 194.8,189.89 200.4,191.48 206,193.03 211.6,194.55 217.2,196.06 222.8,197.55 228.4,199.03 234,200.49 239.6,201.94 245.2,203.39 250.8,204.84 256.4,206.28 262,207.73 267.6,209.18 273.2,210.64 278.8,212.11 284.4,213.59 290,215.09 295.6,216.61 301.2,218.15 306.8,219.71 312.4,221.3 318,222.92 323.6,224.57 329.2,226.26 334.8,227.99 340.4,229.75 346,231.56 351.6,233.42 357.2,235.32 362.8,237.28 368.4,239.29 374,241.35 379.6,243.47 385.2,245.65 390.8,247.88 396.4,250.18 402,252.54 407.6,254.97 413.2,257.46 418.8,260.02 424.4,262.66 430,265.36 435.6,268.14 441.2,271 446.8,273.93 452.4,276.94 458,280.03 463.6,283.21 469.2,286.47 474.8,289.82 480.4,293.26 486,296.78 491.6,300.4 497.2,304.12 502.8,307.88 508.4,311.65 514,315.46 519.6,319.32 525.2,323.26 530.8,327.29 536.4,331.43 542,335.69 547.6,340.08 553.2,344.63 558.8,349.33 564.4,354.2 570,359.23 575.6,364.44 581.2,369.83 586.8,375.4 592.4,381.15 598,387.06 603.6,393.13 609.2,399.34 614.8,405.68 620.4,412.15 626,418.77 631.6,425.52 637.2,432.42 642.8,439.46" fill="none" stroke="#141414" stroke-width="2.3" stroke-linejoin="round"/>
<polyline points="127.6,174.1 133.2,177.06 138.8,179.79 144.4,182.33 150,184.74 155.6,186.99 161.2,189.07 166.8,191 172.4,192.8 178,194.5 183.6,196.14 189.2,197.74 194.8,199.32 200.4,200.89 206,202.45 211.6,204 217.2,205.56 222.8,207.13 228.4,208.68 234,210.21 239.6,211.72 245.2,213.21 250.8,214.7 256.4,216.19 262,217.68 267.6,219.14 273.2,220.57 278.8,222 284.4,223.43 290,224.89 295.6,226.36 301.2,227.85 306.8,229.37 312.4,230.92 318,232.51 323.6,234.13 329.2,235.78 334.8,237.48 340.4,239.23 346,241.02 351.6,242.87 357.2,244.77 362.8,246.73 368.4,248.74 374,250.82 379.6,252.95 385.2,255.15 390.8,257.4 396.4,259.72 402,262.09 407.6,264.53 413.2,267.04 418.8,269.61 424.4,272.25 430,274.96 435.6,277.75 441.2,280.61 446.8,283.56 452.4,286.58 458,289.69 463.6,292.88 469.2,296.16 474.8,299.52 480.4,302.99 486,306.54 491.6,310.19 497.2,313.93 502.8,317.77 508.4,321.71 514,325.75 519.6,329.89 525.2,334.14 530.8,338.49 536.4,342.96 542,347.54 547.6,352.23 553.2,357.03 558.8,361.94 564.4,366.97 570,372.11 575.6,377.37 581.2,382.74 586.8,388.24 592.4,393.86 598,399.61 603.6,405.48 609.2,411.48 614.8,417.61 620.4,423.88 626,430.28 631.6,436.81 637.2,443.48 642.8,450.29" fill="none" stroke="#141414" stroke-width="2.3" stroke-linejoin="round"/>
<polyline points="127.6,186.8 133.2,189.23 138.8,191.47 144.4,193.58 150,195.65 155.6,197.62 161.2,199.42 166.8,201.09 172.4,202.65 178,204.16 183.6,205.64 189.2,207.13 194.8,208.66 200.4,210.21 206,211.78 211.6,213.36 217.2,214.98 222.8,216.62 228.4,218.25 234,219.85 239.6,221.41 245.2,222.95 250.8,224.49 256.4,226.04 262,227.55 267.6,229.03 273.2,230.44 278.8,231.82 284.4,233.22 290,234.63 295.6,236.06 301.2,237.52 306.8,239 312.4,240.51 318,242.06 323.6,243.65 329.2,245.28 334.8,246.96 340.4,248.68 346,250.47 351.6,252.31 357.2,254.21 362.8,256.18 368.4,258.21 374,260.3 379.6,262.45 385.2,264.67 390.8,266.95 396.4,269.29 402,271.69 407.6,274.15 413.2,276.67 418.8,279.25 424.4,281.91 430,284.64 435.6,287.44 441.2,290.32 446.8,293.28 452.4,296.32 458,299.44 463.6,302.66 469.2,305.96 474.8,309.36 480.4,312.85 486,316.44 491.6,320.12 497.2,323.9 502.8,327.83 508.4,331.94 514,336.22 519.6,340.65 525.2,345.21 530.8,349.9 536.4,354.71 542,359.61 547.6,364.6 553.2,369.67 558.8,374.8 564.4,380 570,385.26 575.6,390.57 581.2,395.94 586.8,401.38 592.4,406.88 598,412.47 603.6,418.15 609.2,423.96 614.8,429.9 620.4,435.96 626,442.15 631.6,448.48 637.2,454.93 642.8,461.52" fill="none" stroke="#141414" stroke-width="2.3" stroke-linejoin="round"/>
<polyline points="127.6,210.4 133.2,213.57 138.8,216.49 144.4,219.2 150,221.69 155.6,224 161.2,226.14 166.8,228.13 172.4,229.97 178,231.71 183.6,233.34 189.2,234.88 194.8,236.36 200.4,237.8 206,239.2 211.6,240.58 217.2,241.95 222.8,243.29 228.4,244.63 234,245.95 239.6,247.27 245.2,248.58 250.8,249.88 256.4,251.18 262,252.49 267.6,253.8 273.2,255.12 278.8,256.44 284.4,257.78 290,259.13 295.6,260.5 301.2,261.88 306.8,263.29 312.4,264.72 318,266.18 323.6,267.67 329.2,269.19 334.8,270.74 340.4,272.33 346,273.96 351.6,275.63 357.2,277.35 362.8,279.11 368.4,280.92 374,282.77 379.6,284.68 385.2,286.64 390.8,288.65 396.4,290.72 402,292.85 407.6,295.04 413.2,297.28 418.8,299.59 424.4,301.96 430,304.4 435.6,306.9 441.2,309.47 446.8,312.12 452.4,314.83 458,317.62 463.6,320.48 469.2,323.42 474.8,326.44 480.4,329.54 486,332.72 491.6,335.98 497.2,339.33 502.8,342.72 508.4,346.11 514,349.53 519.6,352.99 525.2,356.51 530.8,360.12 536.4,363.83 542,367.64 547.6,371.59 553.2,375.67 558.8,379.9 564.4,384.28 570,388.82 575.6,393.53 581.2,398.4 586.8,403.43 592.4,408.64 598,414 603.6,419.51 609.2,425.13 614.8,430.88 620.4,436.75 626,442.75 631.6,448.88 637.2,455.14 642.8,461.52" fill="none" stroke="#141414" stroke-width="2.3" stroke-linejoin="round"/>
<polyline points="127.6,224.8 133.2,227.48 138.8,229.95 144.4,232.25 150,234.42 155.6,236.46 161.2,238.34 166.8,240.09 172.4,241.72 178,243.27 183.6,244.75 189.2,246.21 194.8,247.64 200.4,249.07 206,250.49 211.6,251.91 217.2,253.34 222.8,254.77 228.4,256.19 234,257.6 239.6,258.98 245.2,260.35 250.8,261.73 256.4,263.1 262,264.47 267.6,265.82 273.2,267.14 278.8,268.46 284.4,269.79 290,271.14 295.6,272.51 301.2,273.89 306.8,275.31 312.4,276.75 318,278.22 323.6,279.72 329.2,281.26 334.8,282.84 340.4,284.47 346,286.14 351.6,287.85 357.2,289.63 362.8,291.45 368.4,293.33 374,295.26 379.6,297.25 385.2,299.3 390.8,301.4 396.4,303.55 402,305.77 407.6,308.04 413.2,310.37 418.8,312.76 424.4,315.22 430,317.74 435.6,320.34 441.2,323 446.8,325.73 452.4,328.54 458,331.43 463.6,334.4 469.2,337.44 474.8,340.57 480.4,343.79 486,347.09 491.6,350.47 497.2,353.95 502.8,357.51 508.4,361.17 514,364.92 519.6,368.76 525.2,372.7 530.8,376.74 536.4,380.88 542,385.12 547.6,389.46 553.2,393.91 558.8,398.47 564.4,403.12 570,407.89 575.6,412.75 581.2,417.73 586.8,422.82 592.4,428.02 598,433.33 603.6,438.76 609.2,444.31 614.8,449.98 620.4,455.77 626,461.68 631.6,467.72 637.2,473.89 642.8,480.18" fill="none" stroke="#141414" stroke-width="2.3" stroke-linejoin="round"/>
<polyline points="127.6,237.8 133.2,239.99 138.8,241.99 144.4,243.89 150,245.74 155.6,247.51 161.2,249.12 166.8,250.62 172.4,252.02 178,253.37 183.6,254.7 189.2,256.04 194.8,257.42 200.4,258.82 206,260.24 211.6,261.67 217.2,263.15 222.8,264.64 228.4,266.12 234,267.58 239.6,269 245.2,270.41 250.8,271.83 256.4,273.24 262,274.63 267.6,275.99 273.2,277.29 278.8,278.56 284.4,279.85 290,281.15 295.6,282.48 301.2,283.82 306.8,285.19 312.4,286.59 318,288.03 323.6,289.5 329.2,291.01 334.8,292.57 340.4,294.17 346,295.83 351.6,297.54 357.2,299.31 362.8,301.14 368.4,303.03 374,304.98 379.6,306.98 385.2,309.05 390.8,311.17 396.4,313.35 402,315.58 407.6,317.86 413.2,320.21 418.8,322.61 424.4,325.08 430,327.61 435.6,330.22 441.2,332.89 446.8,335.64 452.4,338.46 458,341.36 463.6,344.35 469.2,347.41 474.8,350.57 480.4,353.81 486,357.14 491.6,360.56 497.2,364.06 502.8,367.71 508.4,371.54 514,375.52 519.6,379.64 525.2,383.89 530.8,388.26 536.4,392.73 542,397.29 547.6,401.93 553.2,406.64 558.8,411.41 564.4,416.23 570,421.1 575.6,426.02 581.2,430.99 586.8,436.01 592.4,441.09 598,446.24 603.6,451.47 609.2,456.83 614.8,462.29 620.4,467.88 626,473.58 631.6,479.4 637.2,485.34 642.8,491.41" fill="none" stroke="#141414" stroke-width="2.3" stroke-linejoin="round"/>
<polyline points="127.6,261.3 133.2,264.15 138.8,266.79 144.4,269.22 150,271.47 155.6,273.56 161.2,275.48 166.8,277.28 172.4,278.95 178,280.51 183.6,281.99 189.2,283.39 194.8,284.74 200.4,286.04 206,287.32 211.6,288.57 217.2,289.82 222.8,291.05 228.4,292.26 234,293.47 239.6,294.67 245.2,295.87 250.8,297.07 256.4,298.26 262,299.46 267.6,300.66 273.2,301.87 278.8,303.09 284.4,304.32 290,305.56 295.6,306.82 301.2,308.1 306.8,309.4 312.4,310.72 318,312.06 323.6,313.44 329.2,314.84 334.8,316.27 340.4,317.74 346,319.24 351.6,320.78 357.2,322.37 362.8,323.99 368.4,325.66 374,327.37 379.6,329.13 385.2,330.94 390.8,332.8 396.4,334.71 402,336.67 407.6,338.68 413.2,340.75 418.8,342.88 424.4,345.06 430,347.31 435.6,349.62 441.2,351.98 446.8,354.42 452.4,356.92 458,359.48 463.6,362.12 469.2,364.82 474.8,367.6 480.4,370.45 486,373.37 491.6,376.37 497.2,379.45 502.8,382.55 508.4,385.66 514,388.78 519.6,391.94 525.2,395.16 530.8,398.44 536.4,401.82 542,405.3 547.6,408.9 553.2,412.63 558.8,416.49 564.4,420.5 570,424.66 575.6,428.97 581.2,433.43 586.8,438.06 592.4,442.83 598,447.76 603.6,452.82 609.2,457.99 614.8,463.27 620.4,468.67 626,474.18 631.6,479.8 637.2,485.55 642.8,491.41" fill="none" stroke="#141414" stroke-width="2.3" stroke-linejoin="round"/>
<polyline points="127.6,272.9 133.2,275.29 138.8,277.5 144.4,279.56 150,281.5 155.6,283.32 161.2,285 166.8,286.55 172.4,288 178,289.38 183.6,290.7 189.2,292 194.8,293.28 200.4,294.55 206,295.81 211.6,297.08 217.2,298.35 222.8,299.63 228.4,300.9 234,302.16 239.6,303.39 245.2,304.62 250.8,305.85 256.4,307.08 262,308.3 267.6,309.51 273.2,310.7 278.8,311.88 284.4,313.07 290,314.28 295.6,315.5 301.2,316.74 306.8,318 312.4,319.29 318,320.61 323.6,321.96 329.2,323.34 334.8,324.76 340.4,326.22 346,327.71 351.6,329.26 357.2,330.85 362.8,332.49 368.4,334.18 374,335.91 379.6,337.7 385.2,339.54 390.8,341.43 396.4,343.37 402,345.36 407.6,347.4 413.2,349.5 418.8,351.65 424.4,353.86 430,356.12 435.6,358.45 441.2,360.85 446.8,363.31 452.4,365.83 458,368.43 463.6,371.09 469.2,373.83 474.8,376.65 480.4,379.54 486,382.51 491.6,385.55 497.2,388.68 502.8,391.88 508.4,395.17 514,398.54 519.6,402 525.2,405.54 530.8,409.18 536.4,412.91 542,416.72 547.6,420.63 553.2,424.64 558.8,428.73 564.4,432.93 570,437.21 575.6,441.59 581.2,446.07 586.8,450.64 592.4,455.32 598,460.1 603.6,464.99 609.2,469.98 614.8,475.08 620.4,480.29 626,485.61 631.6,491.04 637.2,496.58 642.8,502.24" fill="none" stroke="#141414" stroke-width="2.3" stroke-linejoin="round"/>
<polyline points="127.6,286.1 133.2,288.04 138.8,289.81 144.4,291.49 150,293.13 155.6,294.69 161.2,296.11 166.8,297.42 172.4,298.66 178,299.84 183.6,301.01 189.2,302.19 194.8,303.4 200.4,304.64 206,305.89 211.6,307.17 217.2,308.47 222.8,309.8 228.4,311.12 234,312.42 239.6,313.69 245.2,314.94 250.8,316.2 256.4,317.46 262,318.7 267.6,319.91 273.2,321.08 278.8,322.22 284.4,323.37 290,324.53 295.6,325.71 301.2,326.91 306.8,328.14 312.4,329.39 318,330.68 323.6,332 329.2,333.35 334.8,334.75 340.4,336.19 346,337.68 351.6,339.22 357.2,340.81 362.8,342.46 368.4,344.16 374,345.92 379.6,347.73 385.2,349.59 390.8,351.51 396.4,353.47 402,355.48 407.6,357.54 413.2,359.66 418.8,361.82 424.4,364.05 430,366.33 435.6,368.68 441.2,371.09 446.8,373.57 452.4,376.11 458,378.73 463.6,381.42 469.2,384.18 474.8,387.03 480.4,389.95 486,392.95 491.6,396.04 497.2,399.2 502.8,402.45 508.4,405.78 514,409.2 519.6,412.7 525.2,416.29 530.8,419.98 536.4,423.76 542,427.64 547.6,431.61 553.2,435.68 558.8,439.83 564.4,444.09 570,448.43 575.6,452.86 581.2,457.39 586.8,462.02 592.4,466.74 598,471.57 603.6,476.51 609.2,481.55 614.8,486.69 620.4,491.95 626,497.31 631.6,502.79 637.2,508.37 642.8,514.07" fill="none" stroke="#141414" stroke-width="2.3" stroke-linejoin="round"/>
<polyline points="127.6,313.2 133.2,315.74 138.8,318.08 144.4,320.25 150,322.25 155.6,324.11 161.2,325.83 166.8,327.43 172.4,328.92 178,330.32 183.6,331.64 189.2,332.9 194.8,334.11 200.4,335.28 206,336.43 211.6,337.56 217.2,338.68 222.8,339.79 228.4,340.89 234,341.98 239.6,343.07 245.2,344.16 250.8,345.24 256.4,346.33 262,347.42 267.6,348.51 273.2,349.61 278.8,350.72 284.4,351.84 290,352.98 295.6,354.13 301.2,355.29 306.8,356.48 312.4,357.69 318,358.92 323.6,360.17 329.2,361.45 334.8,362.77 340.4,364.11 346,365.49 351.6,366.9 357.2,368.35 362.8,369.83 368.4,371.36 374,372.93 379.6,374.54 385.2,376.19 390.8,377.89 396.4,379.64 402,381.43 407.6,383.27 413.2,385.16 418.8,387.11 424.4,389.1 430,391.15 435.6,393.26 441.2,395.42 446.8,397.64 452.4,399.92 458,402.26 463.6,404.67 469.2,407.13 474.8,409.66 480.4,412.26 486,414.92 491.6,417.66 497.2,420.46 502.8,423.33 508.4,426.28 514,429.3 519.6,432.39 525.2,435.56 530.8,438.81 536.4,442.14 542,445.55 547.6,449.04 553.2,452.61 558.8,456.26 564.4,460.01 570,463.83 575.6,467.75 581.2,471.76 586.8,475.85 592.4,480.04 598,484.32 603.6,488.7 609.2,493.17 614.8,497.74 620.4,502.41 626,507.18 631.6,512.05 637.2,517.02 642.8,522.09" fill="none" stroke="#141414" stroke-width="2.3" stroke-linejoin="round"/>
<polyline points="127.6,325.9 133.2,328.01 138.8,329.96 144.4,331.77 150,333.48 155.6,335.09 161.2,336.57 166.8,337.94 172.4,339.22 178,340.43 183.6,341.6 189.2,342.74 194.8,343.87 200.4,345 206,346.12 211.6,347.25 217.2,348.38 222.8,349.52 228.4,350.66 234,351.78 239.6,352.89 245.2,353.98 250.8,355.09 256.4,356.19 262,357.29 267.6,358.38 273.2,359.45 278.8,360.52 284.4,361.59 290,362.68 295.6,363.79 301.2,364.91 306.8,366.05 312.4,367.22 318,368.42 323.6,369.64 329.2,370.89 334.8,372.18 340.4,373.5 346,374.86 351.6,376.26 357.2,377.71 362.8,379.2 368.4,380.74 374,382.32 379.6,383.94 385.2,385.62 390.8,387.33 396.4,389.1 402,390.91 407.6,392.76 413.2,394.67 418.8,396.62 424.4,398.63 430,400.69 435.6,402.8 441.2,404.98 446.8,407.21 452.4,409.5 458,411.86 463.6,414.28 469.2,416.76 474.8,419.31 480.4,421.94 486,424.63 491.6,427.39 497.2,430.22 502.8,433.13 508.4,436.11 514,439.17 519.6,442.3 525.2,445.51 530.8,448.8 536.4,452.18 542,455.64 547.6,459.18 553.2,462.8 558.8,466.51 564.4,470.3 570,474.18 575.6,478.14 581.2,482.19 586.8,486.33 592.4,490.56 598,494.88 603.6,499.29 609.2,503.8 614.8,508.41 620.4,513.11 626,517.91 631.6,522.81 637.2,527.82 642.8,532.92" fill="none" stroke="#141414" stroke-width="2.3" stroke-linejoin="round"/>
<polyline points="127.6,338.9 133.2,340.59 138.8,342.13 144.4,343.59 150,345.02 155.6,346.37 161.2,347.6 166.8,348.74 172.4,349.8 178,350.83 183.6,351.84 189.2,352.86 194.8,353.91 200.4,354.99 206,356.08 211.6,357.2 217.2,358.35 222.8,359.52 228.4,360.68 234,361.83 239.6,362.95 245.2,364.05 250.8,365.17 256.4,366.29 262,367.39 267.6,368.47 273.2,369.5 278.8,370.51 284.4,371.54 290,372.57 295.6,373.63 301.2,374.7 306.8,375.79 312.4,376.91 318,378.06 323.6,379.24 329.2,380.46 334.8,381.71 340.4,383 346,384.34 351.6,385.72 357.2,387.15 362.8,388.64 368.4,390.17 374,391.75 379.6,393.39 385.2,395.07 390.8,396.79 396.4,398.56 402,400.38 407.6,402.23 413.2,404.14 418.8,406.09 424.4,408.09 430,410.14 435.6,412.26 441.2,414.42 446.8,416.65 452.4,418.94 458,421.3 463.6,423.72 469.2,426.2 474.8,428.76 480.4,431.39 486,434.1 491.6,436.87 497.2,439.72 502.8,442.69 508.4,445.82 514,449.08 519.6,452.47 525.2,455.97 530.8,459.56 536.4,463.24 542,467 547.6,470.81 553.2,474.66 558.8,478.56 564.4,482.5 570,486.46 575.6,490.45 581.2,494.46 586.8,498.51 592.4,502.6 598,506.74 603.6,510.94 609.2,515.23 614.8,519.62 620.4,524.09 626,528.67 631.6,533.33 637.2,538.09 642.8,542.95" fill="none" stroke="#141414" stroke-width="2.3" stroke-linejoin="round"/>
<polyline points="127.6,361.7 133.2,363.92 138.8,365.97 144.4,367.86 150,369.62 155.6,371.24 161.2,372.74 166.8,374.14 172.4,375.44 178,376.67 183.6,377.82 189.2,378.92 194.8,379.97 200.4,380.99 206,381.99 211.6,382.97 217.2,383.95 222.8,384.91 228.4,385.87 234,386.82 239.6,387.76 245.2,388.71 250.8,389.65 256.4,390.59 262,391.53 267.6,392.48 273.2,393.44 278.8,394.4 284.4,395.37 290,396.35 295.6,397.35 301.2,398.36 306.8,399.38 312.4,400.43 318,401.49 323.6,402.58 329.2,403.69 334.8,404.82 340.4,405.98 346,407.18 351.6,408.4 357.2,409.65 362.8,410.93 368.4,412.25 374,413.61 379.6,415 385.2,416.43 390.8,417.9 396.4,419.41 402,420.97 407.6,422.56 413.2,424.2 418.8,425.88 424.4,427.61 430,429.38 435.6,431.2 441.2,433.08 446.8,435 452.4,436.97 458,439 463.6,441.08 469.2,443.22 474.8,445.41 480.4,447.66 486,449.97 491.6,452.34 497.2,454.76 502.8,457.21 508.4,459.63 514,462.06 519.6,464.51 525.2,466.99 530.8,469.53 536.4,472.14 542,474.83 547.6,477.62 553.2,480.52 558.8,483.53 564.4,486.67 570,489.93 575.6,493.33 581.2,496.86 586.8,500.52 592.4,504.31 598,508.23 603.6,512.26 609.2,516.37 614.8,520.58 620.4,524.87 626,529.25 631.6,533.72 637.2,538.29 642.8,542.95" fill="none" stroke="#141414" stroke-width="2.3" stroke-linejoin="round"/>
<polyline points="127.6,375 133.2,376.83 138.8,378.51 144.4,380.08 150,381.56 155.6,382.95 161.2,384.22 166.8,385.4 172.4,386.5 178,387.54 183.6,388.55 189.2,389.53 194.8,390.51 200.4,391.47 206,392.44 211.6,393.42 217.2,394.41 222.8,395.39 228.4,396.38 234,397.35 239.6,398.31 245.2,399.26 250.8,400.22 256.4,401.18 262,402.14 267.6,403.09 273.2,404.02 278.8,404.95 284.4,405.89 290,406.84 295.6,407.8 301.2,408.78 306.8,409.78 312.4,410.8 318,411.84 323.6,412.91 329.2,414 334.8,415.13 340.4,416.28 346,417.47 351.6,418.7 357.2,419.97 362.8,421.28 368.4,422.63 374,424.01 379.6,425.44 385.2,426.91 390.8,428.42 396.4,429.97 402,431.56 407.6,433.19 413.2,434.86 418.8,436.57 424.4,438.33 430,440.14 435.6,442 441.2,443.9 446.8,445.86 452.4,447.87 458,449.94 463.6,452.06 469.2,454.24 474.8,456.48 480.4,458.78 486,461.15 491.6,463.57 497.2,466.06 502.8,468.61 508.4,471.23 514,473.91 519.6,476.66 525.2,479.48 530.8,482.37 536.4,485.34 542,488.37 547.6,491.48 553.2,494.67 558.8,497.92 564.4,501.25 570,504.66 575.6,508.13 581.2,511.68 586.8,515.32 592.4,519.03 598,522.82 603.6,526.69 609.2,530.65 614.8,534.69 620.4,538.81 626,543.02 631.6,547.32 637.2,551.71 642.8,556.19" fill="none" stroke="#141414" stroke-width="2.3" stroke-linejoin="round"/>
<polyline points="127.6,387.6 133.2,389.04 138.8,390.36 144.4,391.59 150,392.8 155.6,393.95 161.2,394.99 166.8,395.94 172.4,396.84 178,397.7 183.6,398.55 189.2,399.41 194.8,400.3 200.4,401.21 206,402.14 211.6,403.1 217.2,404.08 222.8,405.08 228.4,406.08 234,407.07 239.6,408.03 245.2,408.98 250.8,409.95 256.4,410.91 262,411.86 267.6,412.79 273.2,413.69 278.8,414.57 284.4,415.45 290,416.35 295.6,417.26 301.2,418.19 306.8,419.14 312.4,420.12 318,421.11 323.6,422.14 329.2,423.2 334.8,424.29 340.4,425.42 346,426.59 351.6,427.8 357.2,429.05 362.8,430.36 368.4,431.7 374,433.1 379.6,434.53 385.2,436.01 390.8,437.53 396.4,439.09 402,440.68 407.6,442.32 413.2,443.99 418.8,445.7 424.4,447.46 430,449.26 435.6,451.12 441.2,453.02 446.8,454.98 452.4,456.99 458,459.06 463.6,461.18 469.2,463.37 474.8,465.62 480.4,467.93 486,470.31 491.6,472.75 497.2,475.26 502.8,477.88 508.4,480.65 514,483.55 519.6,486.56 525.2,489.68 530.8,492.89 536.4,496.17 542,499.51 547.6,502.9 553.2,506.32 558.8,509.78 564.4,513.25 570,516.75 575.6,520.26 581.2,523.78 586.8,527.32 592.4,530.89 598,534.5 603.6,538.16 609.2,541.89 614.8,545.71 620.4,549.61 626,553.58 631.6,557.64 637.2,561.79 642.8,566.02" fill="none" stroke="#141414" stroke-width="2.3" stroke-linejoin="round"/>
<polyline points="127.6,411.3 133.2,413.2 138.8,414.96 144.4,416.58 150,418.08 155.6,419.47 161.2,420.76 166.8,421.96 172.4,423.08 178,424.12 183.6,425.11 189.2,426.05 194.8,426.95 200.4,427.82 206,428.67 211.6,429.52 217.2,430.35 222.8,431.17 228.4,431.99 234,432.8 239.6,433.61 245.2,434.42 250.8,435.22 256.4,436.02 262,436.83 267.6,437.64 273.2,438.45 278.8,439.27 284.4,440.1 290,440.94 295.6,441.79 301.2,442.65 306.8,443.52 312.4,444.41 318,445.32 323.6,446.25 329.2,447.19 334.8,448.16 340.4,449.15 346,450.16 351.6,451.2 357.2,452.27 362.8,453.37 368.4,454.49 374,455.65 379.6,456.84 385.2,458.05 390.8,459.31 396.4,460.59 402,461.92 407.6,463.28 413.2,464.67 418.8,466.1 424.4,467.58 430,469.09 435.6,470.65 441.2,472.24 446.8,473.88 452.4,475.57 458,477.29 463.6,479.07 469.2,480.89 474.8,482.76 480.4,484.68 486,486.65 491.6,488.67 497.2,490.74 502.8,492.81 508.4,494.86 514,496.9 519.6,498.94 525.2,501.02 530.8,503.14 536.4,505.31 542,507.57 547.6,509.91 553.2,512.34 558.8,514.89 564.4,517.55 570,520.32 575.6,523.22 581.2,526.24 586.8,529.39 592.4,532.65 598,536.04 603.6,539.51 609.2,543.07 614.8,546.69 620.4,550.4 626,554.18 631.6,558.05 637.2,561.99 642.8,566.02" fill="none" stroke="#141414" stroke-width="2.3" stroke-linejoin="round"/>
<polyline points="127.6,423.2 133.2,424.75 138.8,426.17 144.4,427.49 150,428.73 155.6,429.9 161.2,430.97 166.8,431.95 172.4,432.87 178,433.74 183.6,434.58 189.2,435.39 194.8,436.2 200.4,437.01 206,437.82 211.6,438.64 217.2,439.47 222.8,440.29 228.4,441.12 234,441.93 239.6,442.74 245.2,443.54 250.8,444.34 256.4,445.15 262,445.95 267.6,446.74 273.2,447.52 278.8,448.3 284.4,449.09 290,449.88 295.6,450.69 301.2,451.51 306.8,452.35 312.4,453.2 318,454.07 323.6,454.97 329.2,455.89 334.8,456.83 340.4,457.81 346,458.81 351.6,459.84 357.2,460.91 362.8,462.02 368.4,463.16 374,464.33 379.6,465.54 385.2,466.78 390.8,468.06 396.4,469.37 402,470.71 407.6,472.09 413.2,473.5 418.8,474.95 424.4,476.44 430,477.96 435.6,479.53 441.2,481.15 446.8,482.8 452.4,484.5 458,486.25 463.6,488.05 469.2,489.89 474.8,491.79 480.4,493.74 486,495.74 491.6,497.8 497.2,499.91 502.8,502.07 508.4,504.29 514,506.57 519.6,508.9 525.2,511.29 530.8,513.75 536.4,516.26 542,518.84 547.6,521.49 553.2,524.19 558.8,526.96 564.4,529.79 570,532.68 575.6,535.63 581.2,538.64 586.8,541.73 592.4,544.88 598,548.1 603.6,551.39 609.2,554.75 614.8,558.18 620.4,561.69 626,565.26 631.6,568.91 637.2,572.64 642.8,576.45" fill="none" stroke="#141414" stroke-width="2.3" stroke-linejoin="round"/>
<polyline points="127.6,435.6 133.2,436.79 138.8,437.88 144.4,438.89 150,439.88 155.6,440.82 161.2,441.67 166.8,442.44 172.4,443.16 178,443.85 183.6,444.54 189.2,445.23 194.8,445.95 200.4,446.69 206,447.46 211.6,448.25 217.2,449.07 222.8,449.89 228.4,450.72 234,451.54 239.6,452.34 245.2,453.13 250.8,453.93 256.4,454.74 262,455.53 267.6,456.31 273.2,457.05 278.8,457.79 284.4,458.53 290,459.28 295.6,460.04 301.2,460.81 306.8,461.61 312.4,462.42 318,463.26 323.6,464.12 329.2,465.01 334.8,465.93 340.4,466.88 346,467.87 351.6,468.89 357.2,469.96 362.8,471.06 368.4,472.21 374,473.4 379.6,474.62 385.2,475.88 390.8,477.17 396.4,478.5 402,479.86 407.6,481.25 413.2,482.67 418.8,484.13 424.4,485.63 430,487.17 435.6,488.74 441.2,490.36 446.8,492.03 452.4,493.74 458,495.5 463.6,497.31 469.2,499.18 474.8,501.1 480.4,503.07 486,505.1 491.6,507.18 497.2,509.32 502.8,511.57 508.4,513.95 514,516.46 519.6,519.07 525.2,521.78 530.8,524.56 536.4,527.41 542,530.31 547.6,533.25 553.2,536.21 558.8,539.19 564.4,542.18 570,545.17 575.6,548.17 581.2,551.18 586.8,554.19 592.4,557.21 598,560.26 603.6,563.35 609.2,566.51 614.8,569.73 620.4,573.02 626,576.38 631.6,579.81 637.2,583.3 642.8,586.87" fill="none" stroke="#141414" stroke-width="2.3" stroke-linejoin="round"/>
<polyline points="127.6,459.5 133.2,461.08 138.8,462.55 144.4,463.9 150,465.15 155.6,466.31 161.2,467.38 166.8,468.37 172.4,469.3 178,470.17 183.6,470.99 189.2,471.77 194.8,472.51 200.4,473.24 206,473.94 211.6,474.64 217.2,475.33 222.8,476.01 228.4,476.68 234,477.35 239.6,478.02 245.2,478.68 250.8,479.34 256.4,480.01 262,480.67 267.6,481.33 273.2,482 278.8,482.68 284.4,483.36 290,484.04 295.6,484.74 301.2,485.45 306.8,486.16 312.4,486.89 318,487.64 323.6,488.4 329.2,489.17 334.8,489.96 340.4,490.78 346,491.61 351.6,492.46 357.2,493.33 362.8,494.23 368.4,495.15 374,496.1 379.6,497.07 385.2,498.07 390.8,499.1 396.4,500.16 402,501.24 407.6,502.35 413.2,503.5 418.8,504.67 424.4,505.88 430,507.12 435.6,508.4 441.2,509.71 446.8,511.05 452.4,512.44 458,513.86 463.6,515.31 469.2,516.81 474.8,518.34 480.4,519.92 486,521.54 491.6,523.2 497.2,524.9 502.8,526.6 508.4,528.25 514,529.89 519.6,531.53 525.2,533.18 530.8,534.87 536.4,536.61 542,538.42 547.6,540.3 553.2,542.27 558.8,544.33 564.4,546.5 570,548.77 575.6,551.16 581.2,553.65 586.8,556.26 592.4,558.98 598,561.81 603.6,564.71 609.2,567.68 614.8,570.72 620.4,573.82 626,576.98 631.6,580.21 637.2,583.51 642.8,586.87" fill="none" stroke="#141414" stroke-width="2.3" stroke-linejoin="round"/>
<polyline points="127.6,472.5 133.2,473.76 138.8,474.92 144.4,476 150,477.01 155.6,477.95 161.2,478.82 166.8,479.61 172.4,480.35 178,481.05 183.6,481.72 189.2,482.38 194.8,483.03 200.4,483.68 206,484.33 211.6,485 217.2,485.67 222.8,486.34 228.4,487.01 234,487.68 239.6,488.33 245.2,488.99 250.8,489.64 256.4,490.3 262,490.96 267.6,491.61 273.2,492.25 278.8,492.88 284.4,493.53 290,494.18 295.6,494.84 301.2,495.51 306.8,496.2 312.4,496.9 318,497.61 323.6,498.35 329.2,499.11 334.8,499.89 340.4,500.69 346,501.52 351.6,502.37 357.2,503.26 362.8,504.17 368.4,505.11 374,506.09 379.6,507.09 385.2,508.12 390.8,509.19 396.4,510.27 402,511.39 407.6,512.53 413.2,513.7 418.8,514.91 424.4,516.14 430,517.41 435.6,518.71 441.2,520.05 446.8,521.42 452.4,522.83 458,524.28 463.6,525.78 469.2,527.31 474.8,528.89 480.4,530.51 486,532.17 491.6,533.88 497.2,535.64 502.8,537.44 508.4,539.28 514,541.17 519.6,543.11 525.2,545.1 530.8,547.15 536.4,549.24 542,551.39 547.6,553.59 553.2,555.84 558.8,558.15 564.4,560.5 570,562.91 575.6,565.36 581.2,567.87 586.8,570.44 592.4,573.06 598,575.74 603.6,578.47 609.2,581.27 614.8,584.12 620.4,587.04 626,590.01 631.6,593.05 637.2,596.15 642.8,599.31" fill="none" stroke="#141414" stroke-width="2.3" stroke-linejoin="round"/>
<polyline points="127.6,484.2 133.2,485.14 138.8,486 144.4,486.79 150,487.57 155.6,488.3 161.2,488.95 166.8,489.55 172.4,490.1 178,490.63 183.6,491.15 189.2,491.69 194.8,492.24 200.4,492.82 206,493.42 211.6,494.05 217.2,494.7 222.8,495.37 228.4,496.03 234,496.69 239.6,497.33 245.2,497.97 250.8,498.62 256.4,499.28 262,499.92 267.6,500.55 273.2,501.16 278.8,501.76 284.4,502.37 290,502.98 295.6,503.6 301.2,504.24 306.8,504.89 312.4,505.56 318,506.25 323.6,506.96 329.2,507.7 334.8,508.46 340.4,509.25 346,510.07 351.6,510.92 357.2,511.82 362.8,512.75 368.4,513.71 374,514.71 379.6,515.74 385.2,516.8 390.8,517.89 396.4,519.01 402,520.15 407.6,521.32 413.2,522.52 418.8,523.74 424.4,525 430,526.29 435.6,527.61 441.2,528.97 446.8,530.37 452.4,531.81 458,533.29 463.6,534.81 469.2,536.38 474.8,537.99 480.4,539.65 486,541.36 491.6,543.11 497.2,544.92 502.8,546.81 508.4,548.85 514,550.99 519.6,553.24 525.2,555.56 530.8,557.96 536.4,560.41 542,562.91 547.6,565.42 553.2,567.96 558.8,570.5 564.4,573.04 570,575.57 575.6,578.1 581.2,580.61 586.8,583.12 592.4,585.64 598,588.16 603.6,590.71 609.2,593.32 614.8,595.98 620.4,598.7 626,601.47 631.6,604.3 637.2,607.19 642.8,610.14" fill="none" stroke="#141414" stroke-width="2.3" stroke-linejoin="round"/>
<polyline points="127.6,508.8 133.2,510.07 138.8,511.24 144.4,512.32 150,513.32 155.6,514.24 161.2,515.1 166.8,515.9 172.4,516.64 178,517.33 183.6,517.98 189.2,518.61 194.8,519.2 200.4,519.78 206,520.34 211.6,520.9 217.2,521.45 222.8,521.99 228.4,522.53 234,523.06 239.6,523.59 245.2,524.12 250.8,524.64 256.4,525.17 262,525.7 267.6,526.23 273.2,526.76 278.8,527.29 284.4,527.83 290,528.38 295.6,528.93 301.2,529.49 306.8,530.06 312.4,530.64 318,531.23 323.6,531.84 329.2,532.45 334.8,533.08 340.4,533.72 346,534.38 351.6,535.06 357.2,535.76 362.8,536.47 368.4,537.2 374,537.95 379.6,538.73 385.2,539.52 390.8,540.33 396.4,541.17 402,542.03 407.6,542.92 413.2,543.83 418.8,544.76 424.4,545.72 430,546.71 435.6,547.72 441.2,548.76 446.8,549.83 452.4,550.93 458,552.05 463.6,553.21 469.2,554.4 474.8,555.62 480.4,556.87 486,558.16 491.6,559.48 497.2,560.83 502.8,562.17 508.4,563.46 514,564.71 519.6,565.96 525.2,567.22 530.8,568.49 536.4,569.81 542,571.19 547.6,572.63 553.2,574.15 558.8,575.75 564.4,577.45 570,579.25 575.6,581.14 581.2,583.14 586.8,585.24 592.4,587.44 598,589.74 603.6,592.11 609.2,594.52 614.8,596.99 620.4,599.51 626,602.09 631.6,604.72 637.2,607.4 642.8,610.14" fill="none" stroke="#141414" stroke-width="2.3" stroke-linejoin="round"/>
<polyline points="127.6,521 133.2,521.98 138.8,522.88 144.4,523.71 150,524.49 155.6,525.21 161.2,525.87 166.8,526.47 172.4,527.03 178,527.56 183.6,528.06 189.2,528.56 194.8,529.05 200.4,529.54 206,530.04 211.6,530.55 217.2,531.07 222.8,531.59 228.4,532.1 234,532.62 239.6,533.12 245.2,533.62 250.8,534.13 256.4,534.64 262,535.15 267.6,535.65 273.2,536.15 278.8,536.65 284.4,537.15 290,537.65 295.6,538.17 301.2,538.69 306.8,539.22 312.4,539.77 318,540.33 323.6,540.9 329.2,541.49 334.8,542.1 340.4,542.73 346,543.38 351.6,544.06 357.2,544.76 362.8,545.48 368.4,546.23 374,547 379.6,547.8 385.2,548.62 390.8,549.46 396.4,550.33 402,551.21 407.6,552.12 413.2,553.05 418.8,554 424.4,554.98 430,555.98 435.6,557.01 441.2,558.07 446.8,559.16 452.4,560.28 458,561.43 463.6,562.62 469.2,563.84 474.8,565.09 480.4,566.38 486,567.7 491.6,569.06 497.2,570.46 502.8,571.89 508.4,573.36 514,574.87 519.6,576.41 525.2,578 530.8,579.62 536.4,581.29 542,583.01 547.6,584.76 553.2,586.56 558.8,588.39 564.4,590.27 570,592.19 575.6,594.15 581.2,596.15 586.8,598.19 592.4,600.28 598,602.41 603.6,604.59 609.2,606.81 614.8,609.08 620.4,611.4 626,613.77 631.6,616.19 637.2,618.65 642.8,621.17" fill="none" stroke="#141414" stroke-width="2.3" stroke-linejoin="round"/>
<polyline points="127.6,535.4 133.2,536.09 138.8,536.72 144.4,537.3 150,537.86 155.6,538.38 161.2,538.84 166.8,539.26 172.4,539.64 178,540.01 183.6,540.37 189.2,540.75 194.8,541.14 200.4,541.56 206,542 211.6,542.47 217.2,542.96 222.8,543.47 228.4,543.97 234,544.48 239.6,544.97 245.2,545.46 250.8,545.96 256.4,546.47 262,546.97 267.6,547.46 273.2,547.94 278.8,548.41 284.4,548.88 290,549.37 295.6,549.86 301.2,550.36 306.8,550.87 312.4,551.4 318,551.95 323.6,552.52 329.2,553.11 334.8,553.72 340.4,554.35 346,555.02 351.6,555.71 357.2,556.44 362.8,557.2 368.4,557.99 374,558.8 379.6,559.65 385.2,560.52 390.8,561.42 396.4,562.34 402,563.28 407.6,564.23 413.2,565.21 418.8,566.21 424.4,567.24 430,568.29 435.6,569.37 441.2,570.48 446.8,571.63 452.4,572.8 458,574.01 463.6,575.25 469.2,576.53 474.8,577.85 480.4,579.21 486,580.61 491.6,582.05 497.2,583.52 502.8,585.09 508.4,586.77 514,588.56 519.6,590.43 525.2,592.38 530.8,594.39 536.4,596.44 542,598.52 547.6,600.63 553.2,602.74 558.8,604.84 564.4,606.94 570,609.02 575.6,611.08 581.2,613.13 586.8,615.17 592.4,617.19 598,619.22 603.6,621.27 609.2,623.35 614.8,625.49 620.4,627.66 626,629.88 631.6,632.15 637.2,634.46 642.8,636.81" fill="none" stroke="#141414" stroke-width="2.3" stroke-linejoin="round"/>
<polyline points="127.6,558.8 133.2,559.75 138.8,560.63 144.4,561.44 150,562.19 155.6,562.89 161.2,563.53 166.8,564.13 172.4,564.69 178,565.22 183.6,565.71 189.2,566.18 194.8,566.63 200.4,567.07 206,567.5 211.6,567.93 217.2,568.35 222.8,568.76 228.4,569.17 234,569.58 239.6,569.99 245.2,570.39 250.8,570.8 256.4,571.2 262,571.61 267.6,572.02 273.2,572.43 278.8,572.84 284.4,573.26 290,573.68 295.6,574.11 301.2,574.55 306.8,574.99 312.4,575.44 318,575.9 323.6,576.37 329.2,576.85 334.8,577.34 340.4,577.84 346,578.35 351.6,578.88 357.2,579.42 362.8,579.97 368.4,580.54 374,581.12 379.6,581.72 385.2,582.34 390.8,582.97 396.4,583.63 402,584.29 407.6,584.98 413.2,585.69 418.8,586.41 424.4,587.16 430,587.92 435.6,588.71 441.2,589.51 446.8,590.34 452.4,591.19 458,592.07 463.6,592.96 469.2,593.88 474.8,594.83 480.4,595.8 486,596.79 491.6,597.81 497.2,598.86 502.8,599.88 508.4,600.85 514,601.78 519.6,602.7 525.2,603.61 530.8,604.54 536.4,605.5 542,606.51 547.6,607.57 553.2,608.7 558.8,609.91 564.4,611.19 570,612.56 575.6,614.02 581.2,615.57 586.8,617.21 592.4,618.93 598,620.74 603.6,622.61 609.2,624.52 614.8,626.46 620.4,628.45 626,630.48 631.6,632.55 637.2,634.66 642.8,636.81" fill="none" stroke="#141414" stroke-width="2.3" stroke-linejoin="round"/>
<polyline points="127.6,570.2 133.2,570.9 138.8,571.53 144.4,572.12 150,572.67 155.6,573.17 161.2,573.63 166.8,574.05 172.4,574.43 178,574.79 183.6,575.14 189.2,575.49 194.8,575.82 200.4,576.17 206,576.52 211.6,576.89 217.2,577.26 222.8,577.64 228.4,578.01 234,578.39 239.6,578.76 245.2,579.13 250.8,579.5 256.4,579.88 262,580.26 267.6,580.63 273.2,581.01 278.8,581.38 284.4,581.76 290,582.14 295.6,582.53 301.2,582.92 306.8,583.33 312.4,583.74 318,584.17 323.6,584.61 329.2,585.06 334.8,585.53 340.4,586.01 346,586.51 351.6,587.03 357.2,587.58 362.8,588.14 368.4,588.72 374,589.33 379.6,589.95 385.2,590.59 390.8,591.25 396.4,591.92 402,592.62 407.6,593.32 413.2,594.05 418.8,594.79 424.4,595.55 430,596.33 435.6,597.13 441.2,597.95 446.8,598.8 452.4,599.67 458,600.56 463.6,601.48 469.2,602.43 474.8,603.4 480.4,604.41 486,605.44 491.6,606.49 497.2,607.58 502.8,608.69 508.4,609.84 514,611.01 519.6,612.21 525.2,613.44 530.8,614.7 536.4,616 542,617.33 547.6,618.7 553.2,620.09 558.8,621.52 564.4,622.98 570,624.46 575.6,625.98 581.2,627.53 586.8,629.11 592.4,630.72 598,632.37 603.6,634.05 609.2,635.77 614.8,637.53 620.4,639.32 626,641.14 631.6,643 637.2,644.9 642.8,646.84" fill="none" stroke="#141414" stroke-width="2.3" stroke-linejoin="round"/>
<polyline points="127.6,583.4 133.2,583.85 138.8,584.24 144.4,584.6 150,584.94 155.6,585.26 161.2,585.53 166.8,585.77 172.4,585.98 178,586.18 183.6,586.39 189.2,586.6 194.8,586.83 200.4,587.09 206,587.37 211.6,587.68 217.2,588.01 222.8,588.35 228.4,588.7 234,589.04 239.6,589.38 245.2,589.72 250.8,590.07 256.4,590.43 262,590.79 267.6,591.14 273.2,591.48 278.8,591.82 284.4,592.16 290,592.51 295.6,592.87 301.2,593.23 306.8,593.61 312.4,593.99 318,594.4 323.6,594.82 329.2,595.25 334.8,595.71 340.4,596.19 346,596.69 351.6,597.22 357.2,597.78 362.8,598.36 368.4,598.97 374,599.61 379.6,600.27 385.2,600.94 390.8,601.64 396.4,602.35 402,603.08 407.6,603.82 413.2,604.58 418.8,605.35 424.4,606.14 430,606.95 435.6,607.79 441.2,608.64 446.8,609.52 452.4,610.43 458,611.36 463.6,612.32 469.2,613.31 474.8,614.33 480.4,615.38 486,616.46 491.6,617.58 497.2,618.72 502.8,619.94 508.4,621.28 514,622.71 519.6,624.21 525.2,625.78 530.8,627.4 536.4,629.05 542,630.73 547.6,632.41 553.2,634.09 558.8,635.76 564.4,637.41 570,639.03 575.6,640.63 581.2,642.2 586.8,643.75 592.4,645.28 598,646.79 603.6,648.32 609.2,649.87 614.8,651.46 620.4,653.08 626,654.73 631.6,656.41 637.2,658.13 642.8,659.88" fill="none" stroke="#141414" stroke-width="2.3" stroke-linejoin="round"/>
<polyline points="127.6,606.5 133.2,607.13 138.8,607.72 144.4,608.26 150,608.76 155.6,609.23 161.2,609.66 166.8,610.06 172.4,610.44 178,610.79 183.6,611.12 189.2,611.44 194.8,611.75 200.4,612.04 206,612.33 211.6,612.62 217.2,612.9 222.8,613.19 228.4,613.47 234,613.74 239.6,614.02 245.2,614.3 250.8,614.58 256.4,614.85 262,615.13 267.6,615.41 273.2,615.7 278.8,615.98 284.4,616.27 290,616.56 295.6,616.85 301.2,617.15 306.8,617.46 312.4,617.77 318,618.09 323.6,618.41 329.2,618.74 334.8,619.08 340.4,619.42 346,619.78 351.6,620.14 357.2,620.52 362.8,620.9 368.4,621.29 374,621.7 379.6,622.11 385.2,622.54 390.8,622.97 396.4,623.42 402,623.88 407.6,624.36 413.2,624.85 418.8,625.35 424.4,625.86 430,626.39 435.6,626.93 441.2,627.48 446.8,628.05 452.4,628.64 458,629.24 463.6,629.86 469.2,630.49 474.8,631.14 480.4,631.81 486,632.49 491.6,633.19 497.2,633.91 502.8,634.6 508.4,635.22 514,635.81 519.6,636.36 525.2,636.9 530.8,637.46 536.4,638.03 542,638.64 547.6,639.29 553.2,640 558.8,640.78 564.4,641.62 570,642.54 575.6,643.54 581.2,644.62 586.8,645.77 592.4,647 598,648.3 603.6,649.65 609.2,651.02 614.8,652.43 620.4,653.86 626,655.32 631.6,656.81 637.2,658.33 642.8,659.88" fill="none" stroke="#141414" stroke-width="2.3" stroke-linejoin="round"/>
<polyline points="127.6,619 133.2,619.42 138.8,619.79 144.4,620.13 150,620.45 155.6,620.73 161.2,620.99 166.8,621.21 172.4,621.42 178,621.61 183.6,621.8 189.2,621.98 194.8,622.17 200.4,622.36 206,622.56 211.6,622.78 217.2,623 222.8,623.22 228.4,623.45 234,623.68 239.6,623.91 245.2,624.13 250.8,624.37 256.4,624.6 262,624.84 267.6,625.08 273.2,625.32 278.8,625.56 284.4,625.8 290,626.04 295.6,626.29 301.2,626.55 306.8,626.81 312.4,627.08 318,627.36 323.6,627.65 329.2,627.95 334.8,628.26 340.4,628.58 346,628.92 351.6,629.27 357.2,629.64 362.8,630.02 368.4,630.42 374,630.84 379.6,631.27 385.2,631.71 390.8,632.17 396.4,632.63 402,633.11 407.6,633.59 413.2,634.09 418.8,634.6 424.4,635.12 430,635.65 435.6,636.2 441.2,636.76 446.8,637.34 452.4,637.94 458,638.55 463.6,639.18 469.2,639.83 474.8,640.5 480.4,641.19 486,641.9 491.6,642.62 497.2,643.37 502.8,644.14 508.4,644.93 514,645.73 519.6,646.56 525.2,647.41 530.8,648.28 536.4,649.18 542,650.09 547.6,651.04 553.2,652 558.8,652.98 564.4,653.99 570,655.01 575.6,656.05 581.2,657.11 586.8,658.2 592.4,659.3 598,660.43 603.6,661.58 609.2,662.76 614.8,663.95 620.4,665.18 626,666.42 631.6,667.69 637.2,668.99 642.8,670.31" fill="none" stroke="#141414" stroke-width="2.3" stroke-linejoin="round"/>
<polyline points="127.6,632 133.2,632.2 138.8,632.36 144.4,632.5 150,632.63 155.6,632.74 161.2,632.81 166.8,632.87 172.4,632.9 178,632.94 183.6,632.98 189.2,633.03 194.8,633.09 200.4,633.18 206,633.3 211.6,633.44 217.2,633.6 222.8,633.77 228.4,633.95 234,634.13 239.6,634.3 245.2,634.48 250.8,634.67 256.4,634.87 262,635.07 267.6,635.27 273.2,635.46 278.8,635.66 284.4,635.86 290,636.06 295.6,636.26 301.2,636.47 306.8,636.7 312.4,636.93 318,637.17 323.6,637.43 329.2,637.7 334.8,637.98 340.4,638.29 346,638.61 351.6,638.95 357.2,639.32 362.8,639.71 368.4,640.12 374,640.55 379.6,641 385.2,641.46 390.8,641.94 396.4,642.42 402,642.92 407.6,643.42 413.2,643.93 418.8,644.45 424.4,644.98 430,645.52 435.6,646.08 441.2,646.66 446.8,647.25 452.4,647.86 458,648.49 463.6,649.13 469.2,649.8 474.8,650.5 480.4,651.21 486,651.95 491.6,652.71 497.2,653.49 502.8,654.29 508.4,655.11 514,655.96 519.6,656.82 525.2,657.71 530.8,658.63 536.4,659.58 542,660.55 547.6,661.55 553.2,662.56 558.8,663.6 564.4,664.66 570,665.73 575.6,666.82 581.2,667.92 586.8,669.05 592.4,670.2 598,671.37 603.6,672.56 609.2,673.77 614.8,675.01 620.4,676.27 626,677.55 631.6,678.86 637.2,680.19 642.8,681.54" fill="none" stroke="#141414" stroke-width="2.3" stroke-linejoin="round"/>
<polyline points="127.6,655.7 133.2,656.02 138.8,656.31 144.4,656.58 150,656.83 155.6,657.06 161.2,657.28 166.8,657.48 172.4,657.66 178,657.84 183.6,658 189.2,658.16 194.8,658.31 200.4,658.45 206,658.6 211.6,658.74 217.2,658.88 222.8,659.01 228.4,659.15 234,659.29 239.6,659.42 245.2,659.56 250.8,659.69 256.4,659.82 262,659.96 267.6,660.09 273.2,660.23 278.8,660.37 284.4,660.51 290,660.65 295.6,660.79 301.2,660.93 306.8,661.08 312.4,661.23 318,661.38 323.6,661.53 329.2,661.69 334.8,661.85 340.4,662.02 346,662.19 351.6,662.36 357.2,662.54 362.8,662.72 368.4,662.91 374,663.1 379.6,663.3 385.2,663.51 390.8,663.72 396.4,663.93 402,664.15 407.6,664.38 413.2,664.61 418.8,664.85 424.4,665.1 430,665.35 435.6,665.61 441.2,665.88 446.8,666.15 452.4,666.43 458,666.72 463.6,667.02 469.2,667.32 474.8,667.63 480.4,667.95 486,668.28 491.6,668.62 497.2,668.97 502.8,669.32 508.4,669.69 514,670.06 519.6,670.44 525.2,670.83 530.8,671.23 536.4,671.65 542,672.07 547.6,672.5 553.2,672.94 558.8,673.39 564.4,673.85 570,674.33 575.6,674.81 581.2,675.31 586.8,675.81 592.4,676.33 598,676.86 603.6,677.4 609.2,677.96 614.8,678.52 620.4,679.1 626,679.69 631.6,680.29 637.2,680.91 642.8,681.54" fill="none" stroke="#141414" stroke-width="2.3" stroke-linejoin="round"/>
<rect x="205" y="96.3" width="67.8" height="38.25" fill="#fff" stroke="#1e1e1e" stroke-width="1.7"/>
<text x="213.2" y="105.7" class="bx">EVX 30/13</text>
<line x1="205" y1="109.05" x2="272.8" y2="109.05" stroke="#1e1e1e" stroke-width="1.7"/>
<text x="213.2" y="118.45" class="bx">EVX 30/13-1</text>
<line x1="205" y1="121.8" x2="272.8" y2="121.8" stroke="#1e1e1e" stroke-width="1.7"/>
<text x="213.2" y="131.2" class="bx">EVX 30/13-2</text>
<rect x="205" y="139.3" width="67.8" height="38.25" fill="#fff" stroke="#1e1e1e" stroke-width="1.7"/>
<text x="213.2" y="148.7" class="bx">EVX 30/12</text>
<line x1="205" y1="152.05" x2="272.8" y2="152.05" stroke="#1e1e1e" stroke-width="1.7"/>
<text x="213.2" y="161.45" class="bx">EVX 30/12-1</text>
<line x1="205" y1="164.8" x2="272.8" y2="164.8" stroke="#1e1e1e" stroke-width="1.7"/>
<text x="213.2" y="174.2" class="bx">EVX 30/12-2</text>
<rect x="205" y="185" width="67.8" height="38.25" fill="#fff" stroke="#1e1e1e" stroke-width="1.7"/>
<text x="213.2" y="194.4" class="bx">EVX 30/11</text>
<line x1="205" y1="197.75" x2="272.8" y2="197.75" stroke="#1e1e1e" stroke-width="1.7"/>
<text x="213.2" y="207.15" class="bx">EVX 30/11-1</text>
<line x1="205" y1="210.5" x2="272.8" y2="210.5" stroke="#1e1e1e" stroke-width="1.7"/>
<text x="213.2" y="219.9" class="bx">EVX 30/13-2</text>
<rect x="205" y="232.4" width="67.8" height="38.25" fill="#fff" stroke="#1e1e1e" stroke-width="1.7"/>
<text x="213.2" y="241.8" class="bx">EVX 30/10</text>
<line x1="205" y1="245.15" x2="272.8" y2="245.15" stroke="#1e1e1e" stroke-width="1.7"/>
<text x="213.2" y="254.55" class="bx">EVX 30/10-1</text>
<line x1="205" y1="257.9" x2="272.8" y2="257.9" stroke="#1e1e1e" stroke-width="1.7"/>
<text x="213.2" y="267.3" class="bx">EVX 30/10-2</text>
<rect x="205" y="278.6" width="67.8" height="38.25" fill="#fff" stroke="#1e1e1e" stroke-width="1.7"/>
<text x="213.2" y="288" class="bx">EVX 30/9</text>
<line x1="205" y1="291.35" x2="272.8" y2="291.35" stroke="#1e1e1e" stroke-width="1.7"/>
<text x="213.2" y="300.75" class="bx">EVX 30/9-1</text>
<line x1="205" y1="304.1" x2="272.8" y2="304.1" stroke="#1e1e1e" stroke-width="1.7"/>
<text x="213.2" y="313.5" class="bx">EVX 30/9-2</text>
<rect x="205" y="327.3" width="67.8" height="38.25" fill="#fff" stroke="#1e1e1e" stroke-width="1.7"/>
<text x="213.2" y="336.7" class="bx">EVX 30/8</text>
<line x1="205" y1="340.05" x2="272.8" y2="340.05" stroke="#1e1e1e" stroke-width="1.7"/>
<text x="213.2" y="349.45" class="bx">EVX 30/8-1</text>
<line x1="205" y1="352.8" x2="272.8" y2="352.8" stroke="#1e1e1e" stroke-width="1.7"/>
<text x="213.2" y="362.2" class="bx">EVX 30/8-2</text>
<rect x="205" y="374.7" width="67.8" height="38.25" fill="#fff" stroke="#1e1e1e" stroke-width="1.7"/>
<text x="213.2" y="384.1" class="bx">EVX 30/7</text>
<line x1="205" y1="387.45" x2="272.8" y2="387.45" stroke="#1e1e1e" stroke-width="1.7"/>
<text x="213.2" y="396.85" class="bx">EVX 30/7-1</text>
<line x1="205" y1="400.2" x2="272.8" y2="400.2" stroke="#1e1e1e" stroke-width="1.7"/>
<text x="213.2" y="409.6" class="bx">EVX 30/7-2</text>
<rect x="205" y="419.1" width="67.8" height="38.25" fill="#fff" stroke="#1e1e1e" stroke-width="1.7"/>
<text x="213.2" y="428.5" class="bx">EVX 30/6</text>
<line x1="205" y1="431.85" x2="272.8" y2="431.85" stroke="#1e1e1e" stroke-width="1.7"/>
<text x="213.2" y="441.25" class="bx">EVX 30/6-1</text>
<line x1="205" y1="444.6" x2="272.8" y2="444.6" stroke="#1e1e1e" stroke-width="1.7"/>
<text x="213.2" y="454" class="bx">EVX 30/6-2</text>
<rect x="205" y="465.1" width="67.8" height="38.25" fill="#fff" stroke="#1e1e1e" stroke-width="1.7"/>
<text x="213.2" y="474.5" class="bx">EVX 30/5</text>
<line x1="205" y1="477.85" x2="272.8" y2="477.85" stroke="#1e1e1e" stroke-width="1.7"/>
<text x="213.2" y="487.25" class="bx">EVX 30/5-1</text>
<line x1="205" y1="490.6" x2="272.8" y2="490.6" stroke="#1e1e1e" stroke-width="1.7"/>
<text x="213.2" y="500" class="bx">EVX 30/5-2</text>
<rect x="205" y="510.9" width="67.8" height="38.25" fill="#fff" stroke="#1e1e1e" stroke-width="1.7"/>
<text x="213.2" y="520.3" class="bx">EVX 30/4</text>
<line x1="205" y1="523.65" x2="272.8" y2="523.65" stroke="#1e1e1e" stroke-width="1.7"/>
<text x="213.2" y="533.05" class="bx">EVX 30/4-1</text>
<line x1="205" y1="536.4" x2="272.8" y2="536.4" stroke="#1e1e1e" stroke-width="1.7"/>
<text x="213.2" y="545.8" class="bx">EVX 30/4-2</text>
<rect x="205" y="558.2" width="67.8" height="38.25" fill="#fff" stroke="#1e1e1e" stroke-width="1.7"/>
<text x="213.2" y="567.6" class="bx">EVX 30/3</text>
<line x1="205" y1="570.95" x2="272.8" y2="570.95" stroke="#1e1e1e" stroke-width="1.7"/>
<text x="213.2" y="580.35" class="bx">EVX 30/3-1</text>
<line x1="205" y1="583.7" x2="272.8" y2="583.7" stroke="#1e1e1e" stroke-width="1.7"/>
<text x="213.2" y="593.1" class="bx">EVX 30/3-2</text>
<rect x="205" y="603.7" width="67.8" height="38.25" fill="#fff" stroke="#1e1e1e" stroke-width="1.7"/>
<text x="213.2" y="613.1" class="bx">EVX 30/2</text>
<line x1="205" y1="616.45" x2="272.8" y2="616.45" stroke="#1e1e1e" stroke-width="1.7"/>
<text x="213.2" y="625.85" class="bx">EVX 30/2-1</text>
<line x1="205" y1="629.2" x2="272.8" y2="629.2" stroke="#1e1e1e" stroke-width="1.7"/>
<text x="213.2" y="638.6" class="bx">EVX 30/2-2</text>
<rect x="205" y="651.8" width="67.8" height="12.75" fill="#fff" stroke="#1e1e1e" stroke-width="1.7"/>
<text x="213.2" y="661.2" class="bx">EVX 30/1</text>
<line x1="138.5" y1="744.91" x2="138.5" y2="837.1" stroke="#9c9c9c" stroke-width="1"/>
<line x1="150.5" y1="744.91" x2="150.5" y2="837.1" stroke="#9c9c9c" stroke-width="1"/>
<line x1="161.5" y1="744.91" x2="161.5" y2="837.1" stroke="#9c9c9c" stroke-width="1"/>
<line x1="172.5" y1="744.91" x2="172.5" y2="837.1" stroke="#9c9c9c" stroke-width="1"/>
<line x1="194.5" y1="744.91" x2="194.5" y2="837.1" stroke="#9c9c9c" stroke-width="1"/>
<line x1="206.5" y1="744.91" x2="206.5" y2="837.1" stroke="#9c9c9c" stroke-width="1"/>
<line x1="217.5" y1="744.91" x2="217.5" y2="837.1" stroke="#9c9c9c" stroke-width="1"/>
<line x1="228.5" y1="744.91" x2="228.5" y2="837.1" stroke="#9c9c9c" stroke-width="1"/>
<line x1="250.5" y1="744.91" x2="250.5" y2="837.1" stroke="#9c9c9c" stroke-width="1"/>
<line x1="262.5" y1="744.91" x2="262.5" y2="837.1" stroke="#9c9c9c" stroke-width="1"/>
<line x1="273.5" y1="744.91" x2="273.5" y2="837.1" stroke="#9c9c9c" stroke-width="1"/>
<line x1="284.5" y1="744.91" x2="284.5" y2="837.1" stroke="#9c9c9c" stroke-width="1"/>
<line x1="306.5" y1="744.91" x2="306.5" y2="837.1" stroke="#9c9c9c" stroke-width="1"/>
<line x1="318.5" y1="744.91" x2="318.5" y2="837.1" stroke="#9c9c9c" stroke-width="1"/>
<line x1="329.5" y1="744.91" x2="329.5" y2="837.1" stroke="#9c9c9c" stroke-width="1"/>
<line x1="340.5" y1="744.91" x2="340.5" y2="837.1" stroke="#9c9c9c" stroke-width="1"/>
<line x1="362.5" y1="744.91" x2="362.5" y2="837.1" stroke="#9c9c9c" stroke-width="1"/>
<line x1="374.5" y1="744.91" x2="374.5" y2="837.1" stroke="#9c9c9c" stroke-width="1"/>
<line x1="385.5" y1="744.91" x2="385.5" y2="837.1" stroke="#9c9c9c" stroke-width="1"/>
<line x1="396.5" y1="744.91" x2="396.5" y2="837.1" stroke="#9c9c9c" stroke-width="1"/>
<line x1="418.5" y1="744.91" x2="418.5" y2="837.1" stroke="#9c9c9c" stroke-width="1"/>
<line x1="430.5" y1="744.91" x2="430.5" y2="837.1" stroke="#9c9c9c" stroke-width="1"/>
<line x1="441.5" y1="744.91" x2="441.5" y2="837.1" stroke="#9c9c9c" stroke-width="1"/>
<line x1="452.5" y1="744.91" x2="452.5" y2="837.1" stroke="#9c9c9c" stroke-width="1"/>
<line x1="474.5" y1="744.91" x2="474.5" y2="837.1" stroke="#9c9c9c" stroke-width="1"/>
<line x1="486.5" y1="744.91" x2="486.5" y2="837.1" stroke="#9c9c9c" stroke-width="1"/>
<line x1="497.5" y1="744.91" x2="497.5" y2="837.1" stroke="#9c9c9c" stroke-width="1"/>
<line x1="508.5" y1="744.91" x2="508.5" y2="837.1" stroke="#9c9c9c" stroke-width="1"/>
<line x1="530.5" y1="744.91" x2="530.5" y2="837.1" stroke="#9c9c9c" stroke-width="1"/>
<line x1="542.5" y1="744.91" x2="542.5" y2="837.1" stroke="#9c9c9c" stroke-width="1"/>
<line x1="553.5" y1="744.91" x2="553.5" y2="837.1" stroke="#9c9c9c" stroke-width="1"/>
<line x1="564.5" y1="744.91" x2="564.5" y2="837.1" stroke="#9c9c9c" stroke-width="1"/>
<line x1="586.5" y1="744.91" x2="586.5" y2="837.1" stroke="#9c9c9c" stroke-width="1"/>
<line x1="609.5" y1="744.91" x2="609.5" y2="837.1" stroke="#9c9c9c" stroke-width="1"/>
<line x1="620.5" y1="744.91" x2="620.5" y2="837.1" stroke="#9c9c9c" stroke-width="1"/>
<line x1="642.5" y1="744.91" x2="642.5" y2="837.1" stroke="#9c9c9c" stroke-width="1"/>
<line x1="654.5" y1="744.91" x2="654.5" y2="837.1" stroke="#9c9c9c" stroke-width="1"/>
<line x1="665.5" y1="744.91" x2="665.5" y2="837.1" stroke="#9c9c9c" stroke-width="1"/>
<line x1="676.5" y1="744.91" x2="676.5" y2="837.1" stroke="#9c9c9c" stroke-width="1"/>
<line x1="127.6" y1="830.5" x2="687.6" y2="830.5" stroke="#9c9c9c" stroke-width="1"/>
<line x1="127.6" y1="817.5" x2="687.6" y2="817.5" stroke="#9c9c9c" stroke-width="1"/>
<line x1="127.6" y1="804.5" x2="687.6" y2="804.5" stroke="#9c9c9c" stroke-width="1"/>
<line x1="127.6" y1="791.5" x2="687.6" y2="791.5" stroke="#9c9c9c" stroke-width="1"/>
<line x1="127.6" y1="777.5" x2="687.6" y2="777.5" stroke="#9c9c9c" stroke-width="1"/>
<line x1="127.6" y1="764.5" x2="687.6" y2="764.5" stroke="#9c9c9c" stroke-width="1"/>
<line x1="127.6" y1="751.5" x2="687.6" y2="751.5" stroke="#9c9c9c" stroke-width="1"/>
<line x1="127.6" y1="823.93" x2="687.6" y2="823.93" stroke="#2c2c2c" stroke-width="1.35"/>
<line x1="127.6" y1="810.76" x2="687.6" y2="810.76" stroke="#2c2c2c" stroke-width="1.35"/>
<line x1="127.6" y1="797.59" x2="687.6" y2="797.59" stroke="#2c2c2c" stroke-width="1.35"/>
<line x1="127.6" y1="784.42" x2="687.6" y2="784.42" stroke="#2c2c2c" stroke-width="1.35"/>
<line x1="127.6" y1="771.25" x2="687.6" y2="771.25" stroke="#2c2c2c" stroke-width="1.35"/>
<line x1="127.6" y1="758.08" x2="687.6" y2="758.08" stroke="#2c2c2c" stroke-width="1.35"/>
<line x1="183.6" y1="744.91" x2="183.6" y2="837.1" stroke="#2c2c2c" stroke-width="1.35"/>
<line x1="239.6" y1="744.91" x2="239.6" y2="837.1" stroke="#2c2c2c" stroke-width="1.35"/>
<line x1="295.6" y1="744.91" x2="295.6" y2="837.1" stroke="#2c2c2c" stroke-width="1.35"/>
<line x1="351.6" y1="744.91" x2="351.6" y2="837.1" stroke="#2c2c2c" stroke-width="1.35"/>
<line x1="407.6" y1="744.91" x2="407.6" y2="837.1" stroke="#2c2c2c" stroke-width="1.35"/>
<line x1="463.6" y1="744.91" x2="463.6" y2="837.1" stroke="#2c2c2c" stroke-width="1.35"/>
<line x1="519.6" y1="744.91" x2="519.6" y2="837.1" stroke="#2c2c2c" stroke-width="1.35"/>
<line x1="575.6" y1="744.91" x2="575.6" y2="837.1" stroke="#2c2c2c" stroke-width="1.35"/>
<line x1="631.6" y1="744.91" x2="631.6" y2="837.1" stroke="#2c2c2c" stroke-width="1.35"/>
<line x1="597.8" y1="744.91" x2="597.8" y2="837.1" stroke="#2c2c2c" stroke-width="1.8"/>
<rect x="407.6" y="744.91" width="190.4" height="92.19" fill="#d6d9ed" style="mix-blend-mode:multiply"/>
<rect x="127.6" y="744.91" width="560" height="92.19" fill="none" stroke="#1e1e1e" stroke-width="1.8"/>
<polyline points="167.47,836.58 173.49,833.13 179.51,829.82 185.52,826.66 191.54,823.63 197.56,820.74 203.57,817.97 209.59,815.33 215.61,812.81 221.62,810.4 227.64,808.1 233.66,805.91 239.67,803.82 245.69,801.83 251.71,799.93 257.72,798.11 263.74,796.38 269.76,794.72 275.77,793.14 281.79,791.63 287.81,790.19 293.83,788.8 299.84,787.47 305.86,786.19 311.88,784.96 317.89,783.79 323.91,782.66 329.93,781.58 335.94,780.55 341.96,779.56 347.98,778.62 353.99,777.72 360.01,776.86 366.03,776.04 372.04,775.26 378.06,774.52 384.08,773.82 390.09,773.14 396.11,772.51 402.13,771.9 408.14,771.33 414.16,770.78 420.18,770.26 426.19,769.77 432.21,769.31 438.23,768.86 444.25,768.45 450.26,768.05 456.28,767.67 462.3,767.31 468.31,766.97 474.33,766.65 480.35,766.35 486.36,766.08 492.38,765.83 498.4,765.61 504.41,765.42 510.43,765.27 516.45,765.15 522.46,765.07 528.48,765.03 534.5,765.04 540.51,765.09 546.53,765.19 552.55,765.34 558.56,765.54 564.58,765.8 570.6,766.12 576.62,766.5 582.63,766.94 588.65,767.44 594.67,768.02 600.68,768.66 606.7,769.38 612.72,770.17 618.73,771.04 624.75,772 630.77,773.03 636.78,774.15 642.8,775.35" fill="none" stroke="#141414" stroke-width="2" stroke-linejoin="round"/>
<line x1="138.5" y1="854.52" x2="138.5" y2="935.3" stroke="#9c9c9c" stroke-width="1"/>
<line x1="150.5" y1="854.52" x2="150.5" y2="935.3" stroke="#9c9c9c" stroke-width="1"/>
<line x1="161.5" y1="854.52" x2="161.5" y2="935.3" stroke="#9c9c9c" stroke-width="1"/>
<line x1="172.5" y1="854.52" x2="172.5" y2="935.3" stroke="#9c9c9c" stroke-width="1"/>
<line x1="194.5" y1="854.52" x2="194.5" y2="935.3" stroke="#9c9c9c" stroke-width="1"/>
<line x1="206.5" y1="854.52" x2="206.5" y2="935.3" stroke="#9c9c9c" stroke-width="1"/>
<line x1="217.5" y1="854.52" x2="217.5" y2="935.3" stroke="#9c9c9c" stroke-width="1"/>
<line x1="228.5" y1="854.52" x2="228.5" y2="935.3" stroke="#9c9c9c" stroke-width="1"/>
<line x1="250.5" y1="854.52" x2="250.5" y2="935.3" stroke="#9c9c9c" stroke-width="1"/>
<line x1="262.5" y1="854.52" x2="262.5" y2="935.3" stroke="#9c9c9c" stroke-width="1"/>
<line x1="273.5" y1="854.52" x2="273.5" y2="935.3" stroke="#9c9c9c" stroke-width="1"/>
<line x1="284.5" y1="854.52" x2="284.5" y2="935.3" stroke="#9c9c9c" stroke-width="1"/>
<line x1="306.5" y1="854.52" x2="306.5" y2="935.3" stroke="#9c9c9c" stroke-width="1"/>
<line x1="318.5" y1="854.52" x2="318.5" y2="935.3" stroke="#9c9c9c" stroke-width="1"/>
<line x1="329.5" y1="854.52" x2="329.5" y2="935.3" stroke="#9c9c9c" stroke-width="1"/>
<line x1="340.5" y1="854.52" x2="340.5" y2="935.3" stroke="#9c9c9c" stroke-width="1"/>
<line x1="362.5" y1="854.52" x2="362.5" y2="935.3" stroke="#9c9c9c" stroke-width="1"/>
<line x1="374.5" y1="854.52" x2="374.5" y2="935.3" stroke="#9c9c9c" stroke-width="1"/>
<line x1="385.5" y1="854.52" x2="385.5" y2="935.3" stroke="#9c9c9c" stroke-width="1"/>
<line x1="396.5" y1="854.52" x2="396.5" y2="935.3" stroke="#9c9c9c" stroke-width="1"/>
<line x1="418.5" y1="854.52" x2="418.5" y2="935.3" stroke="#9c9c9c" stroke-width="1"/>
<line x1="430.5" y1="854.52" x2="430.5" y2="935.3" stroke="#9c9c9c" stroke-width="1"/>
<line x1="441.5" y1="854.52" x2="441.5" y2="935.3" stroke="#9c9c9c" stroke-width="1"/>
<line x1="452.5" y1="854.52" x2="452.5" y2="935.3" stroke="#9c9c9c" stroke-width="1"/>
<line x1="474.5" y1="854.52" x2="474.5" y2="935.3" stroke="#9c9c9c" stroke-width="1"/>
<line x1="486.5" y1="854.52" x2="486.5" y2="935.3" stroke="#9c9c9c" stroke-width="1"/>
<line x1="497.5" y1="854.52" x2="497.5" y2="935.3" stroke="#9c9c9c" stroke-width="1"/>
<line x1="508.5" y1="854.52" x2="508.5" y2="935.3" stroke="#9c9c9c" stroke-width="1"/>
<line x1="530.5" y1="854.52" x2="530.5" y2="935.3" stroke="#9c9c9c" stroke-width="1"/>
<line x1="542.5" y1="854.52" x2="542.5" y2="935.3" stroke="#9c9c9c" stroke-width="1"/>
<line x1="553.5" y1="854.52" x2="553.5" y2="935.3" stroke="#9c9c9c" stroke-width="1"/>
<line x1="564.5" y1="854.52" x2="564.5" y2="935.3" stroke="#9c9c9c" stroke-width="1"/>
<line x1="586.5" y1="854.52" x2="586.5" y2="935.3" stroke="#9c9c9c" stroke-width="1"/>
<line x1="609.5" y1="854.52" x2="609.5" y2="935.3" stroke="#9c9c9c" stroke-width="1"/>
<line x1="620.5" y1="854.52" x2="620.5" y2="935.3" stroke="#9c9c9c" stroke-width="1"/>
<line x1="642.5" y1="854.52" x2="642.5" y2="935.3" stroke="#9c9c9c" stroke-width="1"/>
<line x1="654.5" y1="854.52" x2="654.5" y2="935.3" stroke="#9c9c9c" stroke-width="1"/>
<line x1="665.5" y1="854.52" x2="665.5" y2="935.3" stroke="#9c9c9c" stroke-width="1"/>
<line x1="676.5" y1="854.52" x2="676.5" y2="935.3" stroke="#9c9c9c" stroke-width="1"/>
<line x1="127.6" y1="929.5" x2="687.6" y2="929.5" stroke="#9c9c9c" stroke-width="1"/>
<line x1="127.6" y1="917.5" x2="687.6" y2="917.5" stroke="#9c9c9c" stroke-width="1"/>
<line x1="127.6" y1="906.5" x2="687.6" y2="906.5" stroke="#9c9c9c" stroke-width="1"/>
<line x1="127.6" y1="894.5" x2="687.6" y2="894.5" stroke="#9c9c9c" stroke-width="1"/>
<line x1="127.6" y1="883.5" x2="687.6" y2="883.5" stroke="#9c9c9c" stroke-width="1"/>
<line x1="127.6" y1="871.5" x2="687.6" y2="871.5" stroke="#9c9c9c" stroke-width="1"/>
<line x1="127.6" y1="860.5" x2="687.6" y2="860.5" stroke="#9c9c9c" stroke-width="1"/>
<line x1="127.6" y1="923.76" x2="687.6" y2="923.76" stroke="#2c2c2c" stroke-width="1.35"/>
<line x1="127.6" y1="912.22" x2="687.6" y2="912.22" stroke="#2c2c2c" stroke-width="1.35"/>
<line x1="127.6" y1="900.68" x2="687.6" y2="900.68" stroke="#2c2c2c" stroke-width="1.35"/>
<line x1="127.6" y1="889.14" x2="687.6" y2="889.14" stroke="#2c2c2c" stroke-width="1.35"/>
<line x1="127.6" y1="877.6" x2="687.6" y2="877.6" stroke="#2c2c2c" stroke-width="1.35"/>
<line x1="127.6" y1="866.06" x2="687.6" y2="866.06" stroke="#2c2c2c" stroke-width="1.35"/>
<line x1="183.6" y1="854.52" x2="183.6" y2="935.3" stroke="#2c2c2c" stroke-width="1.35"/>
<line x1="239.6" y1="854.52" x2="239.6" y2="935.3" stroke="#2c2c2c" stroke-width="1.35"/>
<line x1="295.6" y1="854.52" x2="295.6" y2="935.3" stroke="#2c2c2c" stroke-width="1.35"/>
<line x1="351.6" y1="854.52" x2="351.6" y2="935.3" stroke="#2c2c2c" stroke-width="1.35"/>
<line x1="407.6" y1="854.52" x2="407.6" y2="935.3" stroke="#2c2c2c" stroke-width="1.35"/>
<line x1="463.6" y1="854.52" x2="463.6" y2="935.3" stroke="#2c2c2c" stroke-width="1.35"/>
<line x1="519.6" y1="854.52" x2="519.6" y2="935.3" stroke="#2c2c2c" stroke-width="1.35"/>
<line x1="575.6" y1="854.52" x2="575.6" y2="935.3" stroke="#2c2c2c" stroke-width="1.35"/>
<line x1="631.6" y1="854.52" x2="631.6" y2="935.3" stroke="#2c2c2c" stroke-width="1.35"/>
<line x1="597.8" y1="854.52" x2="597.8" y2="935.3" stroke="#2c2c2c" stroke-width="1.8"/>
<rect x="407.6" y="854.52" width="190.4" height="80.78" fill="#d6d9ed" style="mix-blend-mode:multiply"/>
<rect x="127.6" y="854.52" width="560" height="80.78" fill="none" stroke="#1e1e1e" stroke-width="1.8"/>
<polyline points="127.6,922.14 133.12,922.06 138.65,921.97 144.17,921.87 149.7,921.75 155.22,921.63 160.75,921.5 166.27,921.36 171.8,921.21 177.32,921.06 182.84,920.9 188.37,920.73 193.89,920.53 199.42,920.32 204.94,920.1 210.47,919.86 215.99,919.62 221.52,919.37 227.04,919.12 232.57,918.87 238.09,918.63 243.61,918.4 249.14,918.16 254.66,917.92 260.19,917.68 265.71,917.44 271.24,917.2 276.76,916.96 282.29,916.72 287.81,916.48 293.33,916.24 298.86,916 304.38,915.77 309.91,915.53 315.43,915.29 320.96,915.06 326.48,914.82 332.01,914.58 337.53,914.34 343.06,914.1 348.58,913.86 354.1,913.61 359.63,913.37 365.15,913.14 370.68,912.92 376.2,912.69 381.73,912.45 387.25,912.2 392.78,911.93 398.3,911.63 403.82,911.31 409.35,910.95 414.87,910.52 420.4,910.04 425.92,909.5 431.45,908.91 436.97,908.28 442.5,907.61 448.02,906.91 453.55,906.19 459.07,905.45 464.59,904.7 470.12,903.92 475.64,903.1 481.17,902.24 486.69,901.33 492.22,900.38 497.74,899.38 503.27,898.33 508.79,897.23 514.31,896.07 519.84,894.86 525.36,893.57 530.89,892.2 536.41,890.74 541.94,889.2 547.46,887.56 552.99,885.83 558.51,884 564.04,882.08 569.56,880.05 575.08,877.92 580.61,875.57 586.13,872.89 591.66,869.95 597.18,866.84 602.71,863.56 608.23,860.02 613.76,856.22" fill="none" stroke="#141414" stroke-width="2" stroke-linejoin="round"/>
<line x1="84.8" y1="20.7" x2="84.8" y2="703.4" stroke="#222" stroke-width="1.4"/>
<line x1="84.8" y1="703.4" x2="92.3" y2="703.4" stroke="#333" stroke-width="1.1"/>
<text transform="translate(77.9,706.8) scale(1.1,1)" class="t9" text-anchor="end">0</text>
<line x1="84.8" y1="688.12" x2="89.1" y2="688.12" stroke="#333" stroke-width="1.1"/>
<line x1="84.8" y1="672.83" x2="92.3" y2="672.83" stroke="#333" stroke-width="1.1"/>
<text transform="translate(77.9,676.23) scale(1.1,1)" class="t9" text-anchor="end">50</text>
<line x1="84.8" y1="657.55" x2="89.1" y2="657.55" stroke="#333" stroke-width="1.1"/>
<line x1="84.8" y1="642.27" x2="92.3" y2="642.27" stroke="#333" stroke-width="1.1"/>
<text transform="translate(77.9,645.67) scale(1.1,1)" class="t9" text-anchor="end">100</text>
<line x1="84.8" y1="626.99" x2="89.1" y2="626.99" stroke="#333" stroke-width="1.1"/>
<line x1="84.8" y1="611.7" x2="92.3" y2="611.7" stroke="#333" stroke-width="1.1"/>
<text transform="translate(77.9,615.1) scale(1.1,1)" class="t9" text-anchor="end">150</text>
<line x1="84.8" y1="596.42" x2="89.1" y2="596.42" stroke="#333" stroke-width="1.1"/>
<line x1="84.8" y1="581.14" x2="92.3" y2="581.14" stroke="#333" stroke-width="1.1"/>
<text transform="translate(77.9,584.54) scale(1.1,1)" class="t9" text-anchor="end">200</text>
<line x1="84.8" y1="565.86" x2="89.1" y2="565.86" stroke="#333" stroke-width="1.1"/>
<line x1="84.8" y1="550.57" x2="92.3" y2="550.57" stroke="#333" stroke-width="1.1"/>
<text transform="translate(77.9,553.97) scale(1.1,1)" class="t9" text-anchor="end">250</text>
<line x1="84.8" y1="535.29" x2="89.1" y2="535.29" stroke="#333" stroke-width="1.1"/>
<line x1="84.8" y1="520.01" x2="92.3" y2="520.01" stroke="#333" stroke-width="1.1"/>
<text transform="translate(77.9,523.41) scale(1.1,1)" class="t9" text-anchor="end">300</text>
<line x1="84.8" y1="504.73" x2="89.1" y2="504.73" stroke="#333" stroke-width="1.1"/>
<line x1="84.8" y1="489.44" x2="92.3" y2="489.44" stroke="#333" stroke-width="1.1"/>
<text transform="translate(77.9,492.84) scale(1.1,1)" class="t9" text-anchor="end">350</text>
<line x1="84.8" y1="474.16" x2="89.1" y2="474.16" stroke="#333" stroke-width="1.1"/>
<line x1="84.8" y1="458.88" x2="92.3" y2="458.88" stroke="#333" stroke-width="1.1"/>
<text transform="translate(77.9,462.28) scale(1.1,1)" class="t9" text-anchor="end">400</text>
<line x1="84.8" y1="443.59" x2="89.1" y2="443.59" stroke="#333" stroke-width="1.1"/>
<line x1="84.8" y1="428.31" x2="92.3" y2="428.31" stroke="#333" stroke-width="1.1"/>
<text transform="translate(77.9,431.71) scale(1.1,1)" class="t9" text-anchor="end">450</text>
<line x1="84.8" y1="413.03" x2="89.1" y2="413.03" stroke="#333" stroke-width="1.1"/>
<line x1="84.8" y1="397.75" x2="92.3" y2="397.75" stroke="#333" stroke-width="1.1"/>
<text transform="translate(77.9,401.15) scale(1.1,1)" class="t9" text-anchor="end">500</text>
<line x1="84.8" y1="382.46" x2="89.1" y2="382.46" stroke="#333" stroke-width="1.1"/>
<line x1="84.8" y1="367.18" x2="92.3" y2="367.18" stroke="#333" stroke-width="1.1"/>
<text transform="translate(77.9,370.58) scale(1.1,1)" class="t9" text-anchor="end">550</text>
<line x1="84.8" y1="351.9" x2="89.1" y2="351.9" stroke="#333" stroke-width="1.1"/>
<line x1="84.8" y1="336.62" x2="92.3" y2="336.62" stroke="#333" stroke-width="1.1"/>
<text transform="translate(77.9,340.02) scale(1.1,1)" class="t9" text-anchor="end">600</text>
<line x1="84.8" y1="321.33" x2="89.1" y2="321.33" stroke="#333" stroke-width="1.1"/>
<line x1="84.8" y1="306.05" x2="92.3" y2="306.05" stroke="#333" stroke-width="1.1"/>
<text transform="translate(77.9,309.45) scale(1.1,1)" class="t9" text-anchor="end">650</text>
<line x1="84.8" y1="290.77" x2="89.1" y2="290.77" stroke="#333" stroke-width="1.1"/>
<line x1="84.8" y1="275.49" x2="92.3" y2="275.49" stroke="#333" stroke-width="1.1"/>
<text transform="translate(77.9,278.89) scale(1.1,1)" class="t9" text-anchor="end">700</text>
<line x1="84.8" y1="260.2" x2="89.1" y2="260.2" stroke="#333" stroke-width="1.1"/>
<line x1="84.8" y1="244.92" x2="92.3" y2="244.92" stroke="#333" stroke-width="1.1"/>
<text transform="translate(77.9,248.32) scale(1.1,1)" class="t9" text-anchor="end">750</text>
<line x1="84.8" y1="229.64" x2="89.1" y2="229.64" stroke="#333" stroke-width="1.1"/>
<line x1="84.8" y1="214.35" x2="92.3" y2="214.35" stroke="#333" stroke-width="1.1"/>
<text transform="translate(77.9,217.75) scale(1.1,1)" class="t9" text-anchor="end">800</text>
<line x1="84.8" y1="199.07" x2="89.1" y2="199.07" stroke="#333" stroke-width="1.1"/>
<line x1="84.8" y1="183.79" x2="92.3" y2="183.79" stroke="#333" stroke-width="1.1"/>
<text transform="translate(77.9,187.19) scale(1.1,1)" class="t9" text-anchor="end">850</text>
<line x1="84.8" y1="168.51" x2="89.1" y2="168.51" stroke="#333" stroke-width="1.1"/>
<line x1="84.8" y1="153.22" x2="92.3" y2="153.22" stroke="#333" stroke-width="1.1"/>
<text transform="translate(77.9,156.62) scale(1.1,1)" class="t9" text-anchor="end">900</text>
<line x1="84.8" y1="137.94" x2="89.1" y2="137.94" stroke="#333" stroke-width="1.1"/>
<line x1="84.8" y1="122.66" x2="92.3" y2="122.66" stroke="#333" stroke-width="1.1"/>
<text transform="translate(77.9,126.06) scale(1.1,1)" class="t9" text-anchor="end">950</text>
<line x1="84.8" y1="107.38" x2="89.1" y2="107.38" stroke="#333" stroke-width="1.1"/>
<line x1="84.8" y1="92.09" x2="92.3" y2="92.09" stroke="#333" stroke-width="1.1"/>
<text transform="translate(77.9,95.49) scale(1.1,1)" class="t9" text-anchor="end">1000</text>
<line x1="84.8" y1="76.81" x2="89.1" y2="76.81" stroke="#333" stroke-width="1.1"/>
<line x1="84.8" y1="61.53" x2="92.3" y2="61.53" stroke="#333" stroke-width="1.1"/>
<text transform="translate(77.9,64.93) scale(1.1,1)" class="t9" text-anchor="end">1050</text>
<line x1="84.8" y1="46.25" x2="89.1" y2="46.25" stroke="#333" stroke-width="1.1"/>
<line x1="84.8" y1="30.96" x2="92.3" y2="30.96" stroke="#333" stroke-width="1.1"/>
<text transform="translate(77.9,34.36) scale(1.1,1)" class="t9" text-anchor="end">1100</text>
<text x="67.3" y="15.2" class="u" text-anchor="middle">feet</text>
<text x="110.8" y="15.2" class="u" text-anchor="middle">m</text>
<text transform="translate(120.6,706.3) scale(1.1,1)" class="t9" text-anchor="end">0</text>
<text transform="translate(120.6,666.19) scale(1.1,1)" class="t9" text-anchor="end">20</text>
<text transform="translate(120.6,626.08) scale(1.1,1)" class="t9" text-anchor="end">40</text>
<text transform="translate(120.6,585.96) scale(1.1,1)" class="t9" text-anchor="end">60</text>
<text transform="translate(120.6,545.85) scale(1.1,1)" class="t9" text-anchor="end">80</text>
<text transform="translate(120.6,505.74) scale(1.1,1)" class="t9" text-anchor="end">100</text>
<text transform="translate(120.6,465.63) scale(1.1,1)" class="t9" text-anchor="end">120</text>
<text transform="translate(120.6,425.52) scale(1.1,1)" class="t9" text-anchor="end">140</text>
<text transform="translate(120.6,385.4) scale(1.1,1)" class="t9" text-anchor="end">160</text>
<text transform="translate(120.6,345.29) scale(1.1,1)" class="t9" text-anchor="end">180</text>
<text transform="translate(120.6,305.18) scale(1.1,1)" class="t9" text-anchor="end">200</text>
<text transform="translate(120.6,265.07) scale(1.1,1)" class="t9" text-anchor="end">220</text>
<text transform="translate(120.6,224.96) scale(1.1,1)" class="t9" text-anchor="end">240</text>
<text transform="translate(120.6,184.84) scale(1.1,1)" class="t9" text-anchor="end">260</text>
<text transform="translate(120.6,144.73) scale(1.1,1)" class="t9" text-anchor="end">280</text>
<text transform="translate(120.6,104.62) scale(1.1,1)" class="t9" text-anchor="end">300</text>
<text transform="translate(120.6,64.51) scale(1.1,1)" class="t9" text-anchor="end">320</text>
<text transform="translate(120.6,24.4) scale(1.1,1)" class="t9" text-anchor="end">340</text>
<text transform="translate(127.6,715.9) scale(1.08,1)" class="t95" text-anchor="middle">0</text>
<text transform="translate(183.6,715.9) scale(1.08,1)" class="t95" text-anchor="middle">5</text>
<text transform="translate(239.6,715.9) scale(1.08,1)" class="t95" text-anchor="middle">10</text>
<text transform="translate(295.6,715.9) scale(1.08,1)" class="t95" text-anchor="middle">15</text>
<text transform="translate(351.6,715.9) scale(1.08,1)" class="t95" text-anchor="middle">20</text>
<text transform="translate(407.6,715.9) scale(1.08,1)" class="t95" text-anchor="middle">25</text>
<text transform="translate(463.6,715.9) scale(1.08,1)" class="t95" text-anchor="middle">30</text>
<text transform="translate(519.6,715.9) scale(1.08,1)" class="t95" text-anchor="middle">35</text>
<text transform="translate(575.6,715.9) scale(1.08,1)" class="t95" text-anchor="middle">40</text>
<text transform="translate(631.6,715.9) scale(1.08,1)" class="t95" text-anchor="middle">45</text>
<text transform="translate(687.6,715.9) scale(1.08,1)" class="t95" text-anchor="middle">50</text>
<text x="704.8" y="716.3" class="u2">m<tspan class="sup" dy="-3.5">3</tspan><tspan dy="3.5">/h</tspan></text>
<line x1="127" y1="726.7" x2="689.5" y2="726.7" stroke="#222" stroke-width="1.5"/>
<line x1="127.6" y1="720.2" x2="127.6" y2="726.7" stroke="#222" stroke-width="1.3"/>
<text x="127.6" y="739" class="t" text-anchor="middle">0</text>
<line x1="144.4" y1="723.7" x2="144.4" y2="726.7" stroke="#222" stroke-width="1.1"/>
<line x1="161.2" y1="723.7" x2="161.2" y2="726.7" stroke="#222" stroke-width="1.1"/>
<line x1="178" y1="723.7" x2="178" y2="726.7" stroke="#222" stroke-width="1.1"/>
<line x1="194.8" y1="720.2" x2="194.8" y2="726.7" stroke="#222" stroke-width="1.2"/>
<text x="194.8" y="739" class="t" text-anchor="middle">100</text>
<line x1="211.6" y1="723.7" x2="211.6" y2="726.7" stroke="#222" stroke-width="1.1"/>
<line x1="228.4" y1="723.7" x2="228.4" y2="726.7" stroke="#222" stroke-width="1.1"/>
<line x1="245.2" y1="723.7" x2="245.2" y2="726.7" stroke="#222" stroke-width="1.1"/>
<line x1="262" y1="720.2" x2="262" y2="726.7" stroke="#222" stroke-width="1.2"/>
<text x="262" y="739" class="t" text-anchor="middle">200</text>
<line x1="278.8" y1="723.7" x2="278.8" y2="726.7" stroke="#222" stroke-width="1.1"/>
<line x1="295.6" y1="723.7" x2="295.6" y2="726.7" stroke="#222" stroke-width="1.1"/>
<line x1="312.4" y1="723.7" x2="312.4" y2="726.7" stroke="#222" stroke-width="1.1"/>
<line x1="329.2" y1="720.2" x2="329.2" y2="726.7" stroke="#222" stroke-width="1.2"/>
<text x="329.2" y="739" class="t" text-anchor="middle">300</text>
<line x1="346" y1="723.7" x2="346" y2="726.7" stroke="#222" stroke-width="1.1"/>
<line x1="362.8" y1="723.7" x2="362.8" y2="726.7" stroke="#222" stroke-width="1.1"/>
<line x1="379.6" y1="723.7" x2="379.6" y2="726.7" stroke="#222" stroke-width="1.1"/>
<line x1="396.4" y1="720.2" x2="396.4" y2="726.7" stroke="#222" stroke-width="1.2"/>
<text x="396.4" y="739" class="t" text-anchor="middle">400</text>
<line x1="413.2" y1="723.7" x2="413.2" y2="726.7" stroke="#222" stroke-width="1.1"/>
<line x1="430" y1="723.7" x2="430" y2="726.7" stroke="#222" stroke-width="1.1"/>
<line x1="446.8" y1="723.7" x2="446.8" y2="726.7" stroke="#222" stroke-width="1.1"/>
<line x1="463.6" y1="720.2" x2="463.6" y2="726.7" stroke="#222" stroke-width="1.2"/>
<text x="463.6" y="739" class="t" text-anchor="middle">500</text>
<line x1="480.4" y1="723.7" x2="480.4" y2="726.7" stroke="#222" stroke-width="1.1"/>
<line x1="497.2" y1="723.7" x2="497.2" y2="726.7" stroke="#222" stroke-width="1.1"/>
<line x1="514" y1="723.7" x2="514" y2="726.7" stroke="#222" stroke-width="1.1"/>
<line x1="530.8" y1="720.2" x2="530.8" y2="726.7" stroke="#222" stroke-width="1.2"/>
<text x="530.8" y="739" class="t" text-anchor="middle">600</text>
<line x1="547.6" y1="723.7" x2="547.6" y2="726.7" stroke="#222" stroke-width="1.1"/>
<line x1="564.4" y1="723.7" x2="564.4" y2="726.7" stroke="#222" stroke-width="1.1"/>
<line x1="581.2" y1="723.7" x2="581.2" y2="726.7" stroke="#222" stroke-width="1.1"/>
<line x1="598" y1="720.2" x2="598" y2="726.7" stroke="#222" stroke-width="1.2"/>
<text x="598" y="739" class="t" text-anchor="middle">700</text>
<line x1="614.8" y1="723.7" x2="614.8" y2="726.7" stroke="#222" stroke-width="1.1"/>
<line x1="631.6" y1="723.7" x2="631.6" y2="726.7" stroke="#222" stroke-width="1.1"/>
<line x1="648.4" y1="723.7" x2="648.4" y2="726.7" stroke="#222" stroke-width="1.1"/>
<line x1="665.2" y1="720.2" x2="665.2" y2="726.7" stroke="#222" stroke-width="1.2"/>
<text x="665.2" y="739" class="t" text-anchor="middle">800</text>
<line x1="682" y1="723.7" x2="682" y2="726.7" stroke="#222" stroke-width="1.1"/>
<text x="704.5" y="741.4" class="u2">l /min</text>
<text transform="translate(121,841.3) scale(0.87,1)" class="t" text-anchor="end">20</text>
<text transform="translate(121,828.13) scale(0.87,1)" class="t" text-anchor="end">30</text>
<text transform="translate(121,814.96) scale(0.87,1)" class="t" text-anchor="end">40</text>
<text transform="translate(121,801.79) scale(0.87,1)" class="t" text-anchor="end">50</text>
<text transform="translate(121,788.62) scale(0.87,1)" class="t" text-anchor="end">60</text>
<text transform="translate(121,775.45) scale(0.87,1)" class="t" text-anchor="end">70</text>
<text transform="translate(121,762.28) scale(0.87,1)" class="t" text-anchor="end">80</text>
<text transform="translate(121,749.11) scale(0.87,1)" class="t" text-anchor="end">90</text>
<text x="101.2" y="750.6" class="u" text-anchor="middle">%</text>
<text transform="translate(127.6,849.6) scale(1.08,1)" class="t95" text-anchor="middle">0</text>
<text transform="translate(183.6,849.6) scale(1.08,1)" class="t95" text-anchor="middle">5</text>
<text transform="translate(239.6,849.6) scale(1.08,1)" class="t95" text-anchor="middle">10</text>
<text transform="translate(295.6,849.6) scale(1.08,1)" class="t95" text-anchor="middle">15</text>
<text transform="translate(351.6,849.6) scale(1.08,1)" class="t95" text-anchor="middle">20</text>
<text transform="translate(407.6,849.6) scale(1.08,1)" class="t95" text-anchor="middle">25</text>
<text transform="translate(463.6,849.6) scale(1.08,1)" class="t95" text-anchor="middle">30</text>
<text transform="translate(519.6,849.6) scale(1.08,1)" class="t95" text-anchor="middle">35</text>
<text transform="translate(575.6,849.6) scale(1.08,1)" class="t95" text-anchor="middle">40</text>
<text transform="translate(631.6,849.6) scale(1.08,1)" class="t95" text-anchor="middle">45</text>
<text transform="translate(687.6,849.6) scale(1.08,1)" class="t95" text-anchor="middle">50</text>
<text x="704.8" y="848.6" class="u2">m<tspan class="sup" dy="-3.5">3</tspan><tspan dy="3.5">/h</tspan></text>
<text transform="translate(123.6,939.1) scale(0.87,1)" class="t" text-anchor="end">0</text>
<text transform="translate(123.6,927.56) scale(0.87,1)" class="t" text-anchor="end">1</text>
<text transform="translate(123.6,916.02) scale(0.87,1)" class="t" text-anchor="end">2</text>
<text transform="translate(123.6,904.48) scale(0.87,1)" class="t" text-anchor="end">3</text>
<text transform="translate(123.6,892.94) scale(0.87,1)" class="t" text-anchor="end">4</text>
<text transform="translate(123.6,881.4) scale(0.87,1)" class="t" text-anchor="end">5</text>
<text transform="translate(123.6,869.86) scale(0.87,1)" class="t" text-anchor="end">6</text>
<text transform="translate(123.6,858.32) scale(0.87,1)" class="t" text-anchor="end">7</text>
<text x="111.3" y="856.3" class="u" text-anchor="middle">m</text>
<text x="73.8" y="856.3" class="u" text-anchor="middle">feet</text>
<line x1="90.3" y1="854.6" x2="90.3" y2="935.3" stroke="#222" stroke-width="1.4"/>
<line x1="90.3" y1="935.3" x2="95.8" y2="935.3" stroke="#333" stroke-width="1.1"/>
<text transform="translate(85.3,939.1) scale(0.87,1)" class="t" text-anchor="end">0</text>
<line x1="90.3" y1="931.78" x2="93.3" y2="931.78" stroke="#333" stroke-width="1.1"/>
<line x1="90.3" y1="928.27" x2="93.3" y2="928.27" stroke="#333" stroke-width="1.1"/>
<line x1="90.3" y1="924.75" x2="93.3" y2="924.75" stroke="#333" stroke-width="1.1"/>
<line x1="90.3" y1="921.23" x2="95.8" y2="921.23" stroke="#333" stroke-width="1.1"/>
<text transform="translate(85.3,925.03) scale(0.87,1)" class="t" text-anchor="end">4</text>
<line x1="90.3" y1="917.71" x2="93.3" y2="917.71" stroke="#333" stroke-width="1.1"/>
<line x1="90.3" y1="914.2" x2="93.3" y2="914.2" stroke="#333" stroke-width="1.1"/>
<line x1="90.3" y1="910.68" x2="93.3" y2="910.68" stroke="#333" stroke-width="1.1"/>
<line x1="90.3" y1="907.16" x2="95.8" y2="907.16" stroke="#333" stroke-width="1.1"/>
<text transform="translate(85.3,910.96) scale(0.87,1)" class="t" text-anchor="end">8</text>
<line x1="90.3" y1="903.64" x2="93.3" y2="903.64" stroke="#333" stroke-width="1.1"/>
<line x1="90.3" y1="900.13" x2="93.3" y2="900.13" stroke="#333" stroke-width="1.1"/>
<line x1="90.3" y1="896.61" x2="93.3" y2="896.61" stroke="#333" stroke-width="1.1"/>
<line x1="90.3" y1="893.09" x2="95.8" y2="893.09" stroke="#333" stroke-width="1.1"/>
<text transform="translate(85.3,896.89) scale(0.87,1)" class="t" text-anchor="end">12</text>
<line x1="90.3" y1="889.57" x2="93.3" y2="889.57" stroke="#333" stroke-width="1.1"/>
<line x1="90.3" y1="886.06" x2="93.3" y2="886.06" stroke="#333" stroke-width="1.1"/>
<line x1="90.3" y1="882.54" x2="93.3" y2="882.54" stroke="#333" stroke-width="1.1"/>
<line x1="90.3" y1="879.02" x2="95.8" y2="879.02" stroke="#333" stroke-width="1.1"/>
<text transform="translate(85.3,882.82) scale(0.87,1)" class="t" text-anchor="end">16</text>
<line x1="90.3" y1="875.5" x2="93.3" y2="875.5" stroke="#333" stroke-width="1.1"/>
<line x1="90.3" y1="871.99" x2="93.3" y2="871.99" stroke="#333" stroke-width="1.1"/>
<line x1="90.3" y1="868.47" x2="93.3" y2="868.47" stroke="#333" stroke-width="1.1"/>
<line x1="90.3" y1="864.95" x2="95.8" y2="864.95" stroke="#333" stroke-width="1.1"/>
<text transform="translate(85.3,868.75) scale(0.87,1)" class="t" text-anchor="end">20</text>
<line x1="90.3" y1="861.43" x2="93.3" y2="861.43" stroke="#333" stroke-width="1.1"/>
<line x1="90.3" y1="857.92" x2="93.3" y2="857.92" stroke="#333" stroke-width="1.1"/>
<text transform="translate(127.6,946.9) scale(1.08,1)" class="t95" text-anchor="middle">0</text>
<text transform="translate(183.6,946.9) scale(1.08,1)" class="t95" text-anchor="middle">5</text>
<text transform="translate(239.6,946.9) scale(1.08,1)" class="t95" text-anchor="middle">10</text>
<text transform="translate(295.6,946.9) scale(1.08,1)" class="t95" text-anchor="middle">15</text>
<text transform="translate(351.6,946.9) scale(1.08,1)" class="t95" text-anchor="middle">20</text>
<text transform="translate(407.6,946.9) scale(1.08,1)" class="t95" text-anchor="middle">25</text>
<text transform="translate(463.6,946.9) scale(1.08,1)" class="t95" text-anchor="middle">30</text>
<text transform="translate(519.6,946.9) scale(1.08,1)" class="t95" text-anchor="middle">35</text>
<text transform="translate(575.6,946.9) scale(1.08,1)" class="t95" text-anchor="middle">40</text>
<text transform="translate(631.6,946.9) scale(1.08,1)" class="t95" text-anchor="middle">45</text>
<text transform="translate(687.6,946.9) scale(1.08,1)" class="t95" text-anchor="middle">50</text>
<text x="704.8" y="947.6" class="u2">m<tspan class="sup" dy="-3.5">3</tspan><tspan dy="3.5">/h</tspan></text>
<line x1="128" y1="957.4" x2="689.5" y2="957.4" stroke="#222" stroke-width="1.5"/>
<line x1="128.6" y1="951.9" x2="128.6" y2="957.4" stroke="#222" stroke-width="1.3"/>
<text x="128.6" y="968.6" class="t" text-anchor="middle">0</text>
<line x1="145.4" y1="954.4" x2="145.4" y2="957.4" stroke="#222" stroke-width="1.1"/>
<line x1="162.2" y1="954.4" x2="162.2" y2="957.4" stroke="#222" stroke-width="1.1"/>
<line x1="179" y1="954.4" x2="179" y2="957.4" stroke="#222" stroke-width="1.1"/>
<line x1="195.8" y1="951.9" x2="195.8" y2="957.4" stroke="#222" stroke-width="1.2"/>
<text x="195.8" y="968.6" class="t" text-anchor="middle">100</text>
<line x1="212.6" y1="954.4" x2="212.6" y2="957.4" stroke="#222" stroke-width="1.1"/>
<line x1="229.4" y1="954.4" x2="229.4" y2="957.4" stroke="#222" stroke-width="1.1"/>
<line x1="246.2" y1="954.4" x2="246.2" y2="957.4" stroke="#222" stroke-width="1.1"/>
<line x1="263" y1="951.9" x2="263" y2="957.4" stroke="#222" stroke-width="1.2"/>
<text x="263" y="968.6" class="t" text-anchor="middle">200</text>
<line x1="279.8" y1="954.4" x2="279.8" y2="957.4" stroke="#222" stroke-width="1.1"/>
<line x1="296.6" y1="954.4" x2="296.6" y2="957.4" stroke="#222" stroke-width="1.1"/>
<line x1="313.4" y1="954.4" x2="313.4" y2="957.4" stroke="#222" stroke-width="1.1"/>
<line x1="330.2" y1="951.9" x2="330.2" y2="957.4" stroke="#222" stroke-width="1.2"/>
<text x="330.2" y="968.6" class="t" text-anchor="middle">300</text>
<line x1="347" y1="954.4" x2="347" y2="957.4" stroke="#222" stroke-width="1.1"/>
<line x1="363.8" y1="954.4" x2="363.8" y2="957.4" stroke="#222" stroke-width="1.1"/>
<line x1="380.6" y1="954.4" x2="380.6" y2="957.4" stroke="#222" stroke-width="1.1"/>
<line x1="397.4" y1="951.9" x2="397.4" y2="957.4" stroke="#222" stroke-width="1.2"/>
<text x="397.4" y="968.6" class="t" text-anchor="middle">400</text>
<line x1="414.2" y1="954.4" x2="414.2" y2="957.4" stroke="#222" stroke-width="1.1"/>
<line x1="431" y1="954.4" x2="431" y2="957.4" stroke="#222" stroke-width="1.1"/>
<line x1="447.8" y1="954.4" x2="447.8" y2="957.4" stroke="#222" stroke-width="1.1"/>
<line x1="464.6" y1="951.9" x2="464.6" y2="957.4" stroke="#222" stroke-width="1.2"/>
<text x="464.6" y="968.6" class="t" text-anchor="middle">500</text>
<line x1="481.4" y1="954.4" x2="481.4" y2="957.4" stroke="#222" stroke-width="1.1"/>
<line x1="498.2" y1="954.4" x2="498.2" y2="957.4" stroke="#222" stroke-width="1.1"/>
<line x1="515" y1="954.4" x2="515" y2="957.4" stroke="#222" stroke-width="1.1"/>
<line x1="531.8" y1="951.9" x2="531.8" y2="957.4" stroke="#222" stroke-width="1.2"/>
<text x="531.8" y="968.6" class="t" text-anchor="middle">600</text>
<line x1="548.6" y1="954.4" x2="548.6" y2="957.4" stroke="#222" stroke-width="1.1"/>
<line x1="565.4" y1="954.4" x2="565.4" y2="957.4" stroke="#222" stroke-width="1.1"/>
<line x1="582.2" y1="954.4" x2="582.2" y2="957.4" stroke="#222" stroke-width="1.1"/>
<line x1="599" y1="951.9" x2="599" y2="957.4" stroke="#222" stroke-width="1.2"/>
<text x="599" y="968.6" class="t" text-anchor="middle">700</text>
<line x1="615.8" y1="954.4" x2="615.8" y2="957.4" stroke="#222" stroke-width="1.1"/>
<line x1="632.6" y1="954.4" x2="632.6" y2="957.4" stroke="#222" stroke-width="1.1"/>
<line x1="649.4" y1="954.4" x2="649.4" y2="957.4" stroke="#222" stroke-width="1.1"/>
<line x1="666.2" y1="951.9" x2="666.2" y2="957.4" stroke="#222" stroke-width="1.2"/>
<text x="666.2" y="968.6" class="t" text-anchor="middle">800</text>
<line x1="683" y1="954.4" x2="683" y2="957.4" stroke="#222" stroke-width="1.1"/>
<text x="704.5" y="971" class="u2">l /min</text>
<line x1="127" y1="980" x2="688.6" y2="980" stroke="#222" stroke-width="1.5"/>
<line x1="127.6" y1="974.5" x2="127.6" y2="980" stroke="#222" stroke-width="1.2"/>
<text x="127.6" y="992.9" class="t" text-anchor="middle">0</text>
<line x1="153.04" y1="976.8" x2="153.04" y2="980" stroke="#222" stroke-width="1.1"/>
<line x1="178.48" y1="974.5" x2="178.48" y2="980" stroke="#222" stroke-width="1.2"/>
<text x="178.48" y="992.9" class="t" text-anchor="middle">20</text>
<line x1="203.91" y1="976.8" x2="203.91" y2="980" stroke="#222" stroke-width="1.1"/>
<line x1="229.35" y1="974.5" x2="229.35" y2="980" stroke="#222" stroke-width="1.2"/>
<text x="229.35" y="992.9" class="t" text-anchor="middle">40</text>
<line x1="254.79" y1="976.8" x2="254.79" y2="980" stroke="#222" stroke-width="1.1"/>
<line x1="280.23" y1="974.5" x2="280.23" y2="980" stroke="#222" stroke-width="1.2"/>
<text x="280.23" y="992.9" class="t" text-anchor="middle">60</text>
<line x1="305.67" y1="976.8" x2="305.67" y2="980" stroke="#222" stroke-width="1.1"/>
<line x1="331.1" y1="974.5" x2="331.1" y2="980" stroke="#222" stroke-width="1.2"/>
<text x="331.1" y="992.9" class="t" text-anchor="middle">80</text>
<line x1="356.54" y1="976.8" x2="356.54" y2="980" stroke="#222" stroke-width="1.1"/>
<line x1="381.98" y1="974.5" x2="381.98" y2="980" stroke="#222" stroke-width="1.2"/>
<text x="381.98" y="992.9" class="t" text-anchor="middle">100</text>
<line x1="407.42" y1="976.8" x2="407.42" y2="980" stroke="#222" stroke-width="1.1"/>
<line x1="432.86" y1="974.5" x2="432.86" y2="980" stroke="#222" stroke-width="1.2"/>
<text x="432.86" y="992.9" class="t" text-anchor="middle">120</text>
<line x1="458.29" y1="976.8" x2="458.29" y2="980" stroke="#222" stroke-width="1.1"/>
<line x1="483.73" y1="974.5" x2="483.73" y2="980" stroke="#222" stroke-width="1.2"/>
<text x="483.73" y="992.9" class="t" text-anchor="middle">140</text>
<line x1="509.17" y1="976.8" x2="509.17" y2="980" stroke="#222" stroke-width="1.1"/>
<line x1="534.61" y1="974.5" x2="534.61" y2="980" stroke="#222" stroke-width="1.2"/>
<text x="534.61" y="992.9" class="t" text-anchor="middle">160</text>
<line x1="560.05" y1="976.8" x2="560.05" y2="980" stroke="#222" stroke-width="1.1"/>
<line x1="585.48" y1="974.5" x2="585.48" y2="980" stroke="#222" stroke-width="1.2"/>
<text x="585.48" y="992.9" class="t" text-anchor="middle">180</text>
<line x1="610.92" y1="976.8" x2="610.92" y2="980" stroke="#222" stroke-width="1.1"/>
<line x1="636.36" y1="974.5" x2="636.36" y2="980" stroke="#222" stroke-width="1.2"/>
<text x="636.36" y="992.9" class="t" text-anchor="middle">200</text>
<line x1="661.8" y1="976.8" x2="661.8" y2="980" stroke="#222" stroke-width="1.1"/>
<line x1="687.24" y1="974.5" x2="687.24" y2="980" stroke="#222" stroke-width="1.2"/>
<text x="687.24" y="992.9" class="t" text-anchor="middle">220</text>
<text x="703.8" y="992.8" class="u2" textLength="45.5" lengthAdjust="spacingAndGlyphs">U.S.gpm</text>
<text transform="translate(44.8,362) rotate(-90)" class="ttl" text-anchor="middle" textLength="75.5" lengthAdjust="spacingAndGlyphs">Total Head</text>
<text transform="translate(43.8,788.5) rotate(-90)" class="ttl" text-anchor="middle" textLength="76" lengthAdjust="spacingAndGlyphs">Efficiency</text>
<text transform="translate(43.6,893) rotate(-90)" class="ttl" text-anchor="middle" textLength="44.5" lengthAdjust="spacingAndGlyphs">NPSH</text>
<text transform="translate(738.6,169) rotate(-90)" class="big" textLength="88.5" lengthAdjust="spacingAndGlyphs">EVX</text>
<text transform="translate(738.6,72.6) rotate(-90)" class="big" textLength="53.5" lengthAdjust="spacingAndGlyphs">30</text>
</svg>
</body></html>
